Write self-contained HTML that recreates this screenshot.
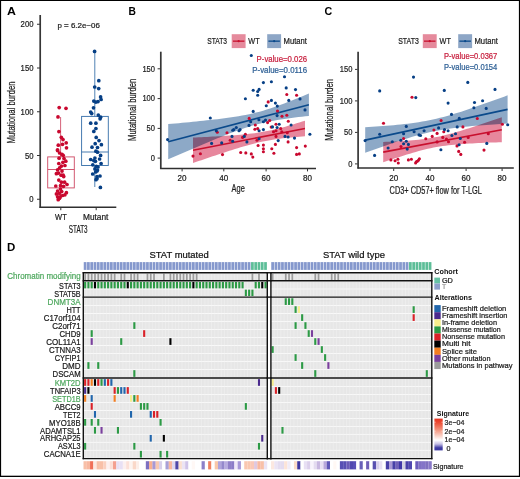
<!DOCTYPE html>
<html><head><meta charset="utf-8"><title>Figure</title>
<style>html,body{margin:0;padding:0;background:#fff;}body{width:520px;height:479px;overflow:hidden;}svg{display:block;}text{font-family:"Liberation Sans",sans-serif;}</style>
</head><body>
<svg width="520" height="479" viewBox="0 0 520 479" font-family="Liberation Sans, sans-serif">
<rect width="520" height="479" fill="#fff"/>
<text x="7" y="14.7" font-size="11" fill="#000" text-anchor="start" font-weight="bold" textLength="8.9" lengthAdjust="spacingAndGlyphs">A</text>
<line x1="40.2" y1="15" x2="40.2" y2="207.9" stroke="#363636" stroke-width="1.7"/>
<line x1="39.5" y1="207.3" x2="116.3" y2="207.3" stroke="#303030" stroke-width="1.5"/>
<line x1="37" y1="24.25" x2="40" y2="24.25" stroke="#333" stroke-width="1"/>
<text x="33.5" y="27.25" font-size="8.8" fill="#1c1c1c" text-anchor="end" textLength="12.9" lengthAdjust="spacingAndGlyphs" stroke="#1c1c1c" stroke-width="0.22">200</text>
<line x1="37" y1="68.0" x2="40" y2="68.0" stroke="#333" stroke-width="1"/>
<text x="33.5" y="71.0" font-size="8.8" fill="#1c1c1c" text-anchor="end" textLength="12.9" lengthAdjust="spacingAndGlyphs" stroke="#1c1c1c" stroke-width="0.22">150</text>
<line x1="37" y1="111.75" x2="40" y2="111.75" stroke="#333" stroke-width="1"/>
<text x="33.5" y="114.75" font-size="8.8" fill="#1c1c1c" text-anchor="end" textLength="12.9" lengthAdjust="spacingAndGlyphs" stroke="#1c1c1c" stroke-width="0.22">100</text>
<line x1="37" y1="155.5" x2="40" y2="155.5" stroke="#333" stroke-width="1"/>
<text x="33.5" y="158.5" font-size="8.8" fill="#1c1c1c" text-anchor="end" textLength="8.6" lengthAdjust="spacingAndGlyphs" stroke="#1c1c1c" stroke-width="0.22">50</text>
<line x1="37" y1="199.25" x2="40" y2="199.25" stroke="#333" stroke-width="1"/>
<text x="33.5" y="202.25" font-size="8.8" fill="#1c1c1c" text-anchor="end" textLength="4.3" lengthAdjust="spacingAndGlyphs" stroke="#1c1c1c" stroke-width="0.22">0</text>
<line x1="60.8" y1="207.5" x2="60.8" y2="210.2" stroke="#333" stroke-width="1"/>
<line x1="96.2" y1="207.5" x2="96.2" y2="210.2" stroke="#333" stroke-width="1"/>
<text x="55.1" y="220.2" font-size="8.4" fill="#1c1c1c" text-anchor="start" textLength="11.6" lengthAdjust="spacingAndGlyphs" stroke="#1c1c1c" stroke-width="0.22">WT</text>
<text x="83" y="220.2" font-size="8.4" fill="#1c1c1c" text-anchor="start" textLength="25.4" lengthAdjust="spacingAndGlyphs" stroke="#1c1c1c" stroke-width="0.22">Mutant</text>
<text x="68.8" y="233.2" font-size="10.3" fill="#1c1c1c" text-anchor="start" textLength="18.7" lengthAdjust="spacingAndGlyphs" stroke="#1c1c1c" stroke-width="0.22">STAT3</text>
<text x="0" y="0" font-size="10.5" fill="#1c1c1c" text-anchor="start" textLength="62" lengthAdjust="spacingAndGlyphs" stroke="#1c1c1c" stroke-width="0.22" transform="translate(14.5,143.4) rotate(-90)">Mutational burden</text>
<text x="57.5" y="27.9" font-size="7.6" fill="#1c1c1c" text-anchor="start" textLength="42.3" lengthAdjust="spacingAndGlyphs" stroke="#1c1c1c" stroke-width="0.22">p = 6.2e&#8722;06</text>
<line x1="60.6" y1="117" x2="60.6" y2="157" stroke="#D0506A" stroke-width="0.9"/>
<line x1="60.6" y1="188" x2="60.6" y2="199.2" stroke="#D0506A" stroke-width="0.9"/>
<rect x="47.7" y="156.9" width="26.6" height="31" fill="none" stroke="#D0506A" stroke-width="0.95"/>
<line x1="47.7" y1="169.5" x2="74.3" y2="169.5" stroke="#D0506A" stroke-width="0.95"/>
<line x1="94.8" y1="51.4" x2="94.8" y2="116.4" stroke="#3D74AC" stroke-width="0.9"/>
<line x1="94.8" y1="165.5" x2="94.8" y2="187" stroke="#3D74AC" stroke-width="0.9"/>
<rect x="81.6" y="116.4" width="26.7" height="49.1" fill="none" stroke="#3D74AC" stroke-width="0.95"/>
<line x1="81.6" y1="152" x2="108.3" y2="152" stroke="#3D74AC" stroke-width="0.95"/>
<circle cx="59.2" cy="107.6" r="1.85" fill="#C9082F"/>
<circle cx="66" cy="108.3" r="1.85" fill="#C9082F"/>
<circle cx="58" cy="116.9" r="1.85" fill="#C9082F"/>
<circle cx="58.9" cy="131.6" r="1.85" fill="#C9082F"/>
<circle cx="61.3" cy="137.3" r="1.85" fill="#C9082F"/>
<circle cx="63" cy="139.6" r="1.85" fill="#C9082F"/>
<circle cx="66.2" cy="142.8" r="1.85" fill="#C9082F"/>
<circle cx="62.5" cy="144.3" r="1.85" fill="#C9082F"/>
<circle cx="58.3" cy="145.2" r="1.85" fill="#C9082F"/>
<circle cx="66.5" cy="147.8" r="1.85" fill="#C9082F"/>
<circle cx="57.5" cy="149.8" r="1.85" fill="#C9082F"/>
<circle cx="57.6" cy="150.6" r="1.85" fill="#C9082F"/>
<circle cx="59.6" cy="153" r="1.85" fill="#C9082F"/>
<circle cx="62" cy="154.4" r="1.85" fill="#C9082F"/>
<circle cx="63.2" cy="155.3" r="1.85" fill="#C9082F"/>
<circle cx="59.1" cy="158.2" r="1.85" fill="#C9082F"/>
<circle cx="64" cy="158.5" r="1.85" fill="#C9082F"/>
<circle cx="65.8" cy="161.2" r="1.85" fill="#C9082F"/>
<circle cx="58.8" cy="163.5" r="1.85" fill="#C9082F"/>
<circle cx="62.9" cy="162.3" r="1.85" fill="#C9082F"/>
<circle cx="64.9" cy="165.5" r="1.85" fill="#C9082F"/>
<circle cx="61.4" cy="166.1" r="1.85" fill="#C9082F"/>
<circle cx="59.6" cy="167.9" r="1.85" fill="#C9082F"/>
<circle cx="57.6" cy="169.9" r="1.85" fill="#C9082F"/>
<circle cx="62" cy="171.1" r="1.85" fill="#C9082F"/>
<circle cx="56.4" cy="173.7" r="1.85" fill="#C9082F"/>
<circle cx="58.5" cy="173.1" r="1.85" fill="#C9082F"/>
<circle cx="61.1" cy="175.2" r="1.85" fill="#C9082F"/>
<circle cx="63.2" cy="175.2" r="1.85" fill="#C9082F"/>
<circle cx="63.7" cy="176.6" r="1.85" fill="#C9082F"/>
<circle cx="58.8" cy="180.1" r="1.85" fill="#C9082F"/>
<circle cx="61.4" cy="182.2" r="1.85" fill="#C9082F"/>
<circle cx="64.6" cy="182.2" r="1.85" fill="#C9082F"/>
<circle cx="67" cy="184.5" r="1.85" fill="#C9082F"/>
<circle cx="55.8" cy="186" r="1.85" fill="#C9082F"/>
<circle cx="60.5" cy="185.7" r="1.85" fill="#C9082F"/>
<circle cx="63.5" cy="186.3" r="1.85" fill="#C9082F"/>
<circle cx="57.6" cy="191" r="1.85" fill="#C9082F"/>
<circle cx="61.7" cy="191.5" r="1.85" fill="#C9082F"/>
<circle cx="66.4" cy="192.7" r="1.85" fill="#C9082F"/>
<circle cx="56.4" cy="193.9" r="1.85" fill="#C9082F"/>
<circle cx="59.4" cy="193.3" r="1.85" fill="#C9082F"/>
<circle cx="64.9" cy="194.8" r="1.85" fill="#C9082F"/>
<circle cx="57.6" cy="196.8" r="1.85" fill="#C9082F"/>
<circle cx="60.2" cy="196.8" r="1.85" fill="#C9082F"/>
<circle cx="58.2" cy="199.7" r="1.85" fill="#C9082F"/>
<circle cx="60.5" cy="189" r="1.85" fill="#C9082F"/>
<circle cx="62.5" cy="195.5" r="1.85" fill="#C9082F"/>
<circle cx="59.5" cy="198.3" r="1.85" fill="#C9082F"/>
<circle cx="94.6" cy="51.4" r="1.85" fill="#063F85"/>
<circle cx="98.8" cy="80.7" r="1.85" fill="#063F85"/>
<circle cx="94.7" cy="87" r="1.85" fill="#063F85"/>
<circle cx="98.7" cy="88.6" r="1.85" fill="#063F85"/>
<circle cx="100.6" cy="96.9" r="1.85" fill="#063F85"/>
<circle cx="101.1" cy="99.5" r="1.85" fill="#063F85"/>
<circle cx="93.8" cy="101.1" r="1.85" fill="#063F85"/>
<circle cx="98" cy="101.6" r="1.85" fill="#063F85"/>
<circle cx="95.9" cy="102.1" r="1.85" fill="#063F85"/>
<circle cx="93.5" cy="107.8" r="1.85" fill="#063F85"/>
<circle cx="90.7" cy="112" r="1.85" fill="#063F85"/>
<circle cx="91.7" cy="113.6" r="1.85" fill="#063F85"/>
<circle cx="98.3" cy="115.1" r="1.85" fill="#063F85"/>
<circle cx="100.6" cy="117.2" r="1.85" fill="#063F85"/>
<circle cx="100.1" cy="118.8" r="1.85" fill="#063F85"/>
<circle cx="90.7" cy="123.2" r="1.85" fill="#063F85"/>
<circle cx="95.9" cy="123.2" r="1.85" fill="#063F85"/>
<circle cx="95.9" cy="128.5" r="1.85" fill="#063F85"/>
<circle cx="93.8" cy="131.4" r="1.85" fill="#063F85"/>
<circle cx="96.2" cy="137.4" r="1.85" fill="#063F85"/>
<circle cx="99" cy="140.6" r="1.85" fill="#063F85"/>
<circle cx="95.2" cy="143.7" r="1.85" fill="#063F85"/>
<circle cx="101.4" cy="144.7" r="1.85" fill="#063F85"/>
<circle cx="92" cy="147.2" r="1.85" fill="#063F85"/>
<circle cx="97.5" cy="147.5" r="1.85" fill="#063F85"/>
<circle cx="95.9" cy="151.2" r="1.85" fill="#063F85"/>
<circle cx="97.5" cy="152.2" r="1.85" fill="#063F85"/>
<circle cx="100.6" cy="155.4" r="1.85" fill="#063F85"/>
<circle cx="94.9" cy="158" r="1.85" fill="#063F85"/>
<circle cx="90.7" cy="159.5" r="1.85" fill="#063F85"/>
<circle cx="93.8" cy="160.6" r="1.85" fill="#063F85"/>
<circle cx="99.6" cy="159" r="1.85" fill="#063F85"/>
<circle cx="101.1" cy="163.5" r="1.85" fill="#063F85"/>
<circle cx="92.8" cy="164.8" r="1.85" fill="#063F85"/>
<circle cx="96.4" cy="166.3" r="1.85" fill="#063F85"/>
<circle cx="94.9" cy="168.9" r="1.85" fill="#063F85"/>
<circle cx="97.5" cy="170" r="1.85" fill="#063F85"/>
<circle cx="95.4" cy="161.3" r="1.85" fill="#063F85"/>
<circle cx="98" cy="167" r="1.85" fill="#063F85"/>
<circle cx="97" cy="171" r="1.85" fill="#063F85"/>
<circle cx="95.7" cy="172" r="1.85" fill="#063F85"/>
<circle cx="92.7" cy="174" r="1.85" fill="#063F85"/>
<circle cx="100" cy="176" r="1.85" fill="#063F85"/>
<circle cx="97" cy="176.7" r="1.85" fill="#063F85"/>
<circle cx="97" cy="178.7" r="1.85" fill="#063F85"/>
<circle cx="96" cy="179.7" r="1.85" fill="#063F85"/>
<circle cx="100.4" cy="187.4" r="1.85" fill="#063F85"/>
<text x="128.6" y="14.8" font-size="11.5" fill="#000" text-anchor="start" font-weight="bold" textLength="7.4" lengthAdjust="spacingAndGlyphs">B</text>
<line x1="160.8" y1="51.7" x2="160.8" y2="169" stroke="#363636" stroke-width="1.7"/>
<line x1="160.1" y1="168.4" x2="316" y2="168.4" stroke="#303030" stroke-width="1.5"/>
<line x1="157.6" y1="68.8" x2="160.3" y2="68.8" stroke="#333" stroke-width="1"/>
<text x="155.0" y="71.5" font-size="8.8" fill="#1c1c1c" text-anchor="end" textLength="12.6" lengthAdjust="spacingAndGlyphs" stroke="#1c1c1c" stroke-width="0.22">150</text>
<line x1="157.6" y1="98.6" x2="160.3" y2="98.6" stroke="#333" stroke-width="1"/>
<text x="155.0" y="101.3" font-size="8.8" fill="#1c1c1c" text-anchor="end" textLength="12.6" lengthAdjust="spacingAndGlyphs" stroke="#1c1c1c" stroke-width="0.22">100</text>
<line x1="157.6" y1="128.4" x2="160.3" y2="128.4" stroke="#333" stroke-width="1"/>
<text x="155.0" y="131.1" font-size="8.8" fill="#1c1c1c" text-anchor="end" textLength="8.4" lengthAdjust="spacingAndGlyphs" stroke="#1c1c1c" stroke-width="0.22">50</text>
<line x1="157.6" y1="158.1" x2="160.3" y2="158.1" stroke="#333" stroke-width="1"/>
<text x="155.0" y="160.8" font-size="8.8" fill="#1c1c1c" text-anchor="end" textLength="4.2" lengthAdjust="spacingAndGlyphs" stroke="#1c1c1c" stroke-width="0.22">0</text>
<line x1="182.1" y1="168.8" x2="182.1" y2="171.4" stroke="#333" stroke-width="1"/>
<text x="182.1" y="180.8" font-size="8.8" fill="#1c1c1c" text-anchor="middle" textLength="9.0" lengthAdjust="spacingAndGlyphs" stroke="#1c1c1c" stroke-width="0.22">20</text>
<line x1="223.8" y1="168.8" x2="223.8" y2="171.4" stroke="#333" stroke-width="1"/>
<text x="223.8" y="180.8" font-size="8.8" fill="#1c1c1c" text-anchor="middle" textLength="9.0" lengthAdjust="spacingAndGlyphs" stroke="#1c1c1c" stroke-width="0.22">40</text>
<line x1="266.1" y1="168.8" x2="266.1" y2="171.4" stroke="#333" stroke-width="1"/>
<text x="266.1" y="180.8" font-size="8.8" fill="#1c1c1c" text-anchor="middle" textLength="9.0" lengthAdjust="spacingAndGlyphs" stroke="#1c1c1c" stroke-width="0.22">60</text>
<line x1="307.5" y1="168.8" x2="307.5" y2="171.4" stroke="#333" stroke-width="1"/>
<text x="307.5" y="180.8" font-size="8.8" fill="#1c1c1c" text-anchor="middle" textLength="9.0" lengthAdjust="spacingAndGlyphs" stroke="#1c1c1c" stroke-width="0.22">80</text>
<text x="231.6" y="191.7" font-size="10.4" fill="#1c1c1c" text-anchor="start" textLength="13.2" lengthAdjust="spacingAndGlyphs" stroke="#1c1c1c" stroke-width="0.22">Age</text>
<text x="0" y="0" font-size="10.5" fill="#1c1c1c" text-anchor="start" textLength="62.4" lengthAdjust="spacingAndGlyphs" stroke="#1c1c1c" stroke-width="0.22" transform="translate(136.2,141.0) rotate(-90)">Mutational burden</text>
<text x="207.3" y="44.3" font-size="8.5" fill="#1c1c1c" text-anchor="start" textLength="19.8" lengthAdjust="spacingAndGlyphs" stroke="#1c1c1c" stroke-width="0.22">STAT3</text>
<rect x="231.7" y="34.2" width="13.9" height="13.9" fill="#E58A9C"/>
<line x1="232.89999999999998" y1="41.15" x2="244.39999999999998" y2="41.15" stroke="#C8102E" stroke-width="1.3"/>
<circle cx="238.64999999999998" cy="41.15" r="1.1" fill="#C8102E"/>
<rect x="267.2" y="34.2" width="13.9" height="13.9" fill="#8DA6C6"/>
<line x1="268.4" y1="41.15" x2="279.9" y2="41.15" stroke="#0B4A8B" stroke-width="1.3"/>
<circle cx="274.15" cy="41.15" r="1.1" fill="#0B4A8B"/>
<text x="248.3" y="44.3" font-size="8.5" fill="#1c1c1c" text-anchor="start" textLength="11.3" lengthAdjust="spacingAndGlyphs" stroke="#1c1c1c" stroke-width="0.22">WT</text>
<text x="283.6" y="44.3" font-size="8.5" fill="#1c1c1c" text-anchor="start" textLength="23.4" lengthAdjust="spacingAndGlyphs" stroke="#1c1c1c" stroke-width="0.22">Mutant</text>
<text x="256.6" y="62.4" font-size="8.2" fill="#C8203F" text-anchor="start" textLength="50.5" lengthAdjust="spacingAndGlyphs" stroke="#C8203F" stroke-width="0.22">P-value=0.026</text>
<text x="252.3" y="72.8" font-size="8.2" fill="#2D5F95" text-anchor="start" textLength="54.8" lengthAdjust="spacingAndGlyphs" stroke="#2D5F95" stroke-width="0.22">P-value=0.0116</text>
<path d="M168.20,124.10 L171.72,123.78 L175.23,123.47 L178.75,123.14 L182.27,122.82 L185.79,122.49 L189.30,122.15 L192.82,121.81 L196.34,121.46 L199.86,121.11 L203.38,120.74 L206.89,120.37 L210.41,119.99 L213.93,119.59 L217.44,119.18 L220.96,118.75 L224.48,118.30 L228.00,117.83 L231.51,117.33 L235.03,116.80 L238.55,116.22 L242.07,115.61 L245.58,114.94 L249.10,114.21 L252.62,113.42 L256.14,112.56 L259.65,111.64 L263.17,110.64 L266.69,109.58 L270.21,108.45 L273.73,107.27 L277.24,106.03 L280.76,104.75 L284.28,103.43 L287.79,102.08 L291.31,100.70 L294.83,99.30 L298.35,97.88 L301.87,96.44 L305.38,94.98 L308.90,93.51 L308.90,115.88 L305.38,116.26 L301.87,116.66 L298.35,117.07 L294.83,117.49 L291.31,117.94 L287.79,118.41 L284.28,118.91 L280.76,119.44 L277.24,120.01 L273.73,120.63 L270.21,121.29 L266.69,122.02 L263.17,122.80 L259.65,123.66 L256.14,124.58 L252.62,125.57 L249.10,126.63 L245.58,127.76 L242.07,128.94 L238.55,130.17 L235.03,131.45 L231.51,132.77 L228.00,134.11 L224.48,135.49 L220.96,136.89 L217.44,138.32 L213.93,139.76 L210.41,141.21 L206.89,142.68 L203.38,144.15 L199.86,145.64 L196.34,147.14 L192.82,148.64 L189.30,150.15 L185.79,151.66 L182.27,153.18 L178.75,154.71 L175.23,156.23 L171.72,157.77 L168.20,159.30Z" fill="#1B5390" fill-opacity="0.5"/>
<path d="M193.00,137.59 L195.80,137.46 L198.60,137.33 L201.40,137.19 L204.20,137.05 L207.00,136.91 L209.80,136.77 L212.60,136.62 L215.40,136.46 L218.20,136.30 L221.00,136.14 L223.80,135.96 L226.60,135.78 L229.40,135.59 L232.20,135.39 L235.00,135.18 L237.80,134.95 L240.60,134.71 L243.40,134.45 L246.20,134.17 L249.00,133.86 L251.80,133.53 L254.60,133.16 L257.40,132.76 L260.20,132.33 L263.00,131.85 L265.80,131.34 L268.60,130.78 L271.40,130.18 L274.20,129.54 L277.00,128.86 L279.80,128.15 L282.60,127.40 L285.40,126.63 L288.20,125.83 L291.00,125.01 L293.80,124.16 L296.60,123.31 L299.40,122.43 L302.20,121.55 L305.00,120.65 L305.00,136.36 L302.20,136.55 L299.40,136.75 L296.60,136.97 L293.80,137.20 L291.00,137.45 L288.20,137.72 L285.40,138.01 L282.60,138.33 L279.80,138.67 L277.00,139.05 L274.20,139.46 L271.40,139.91 L268.60,140.40 L265.80,140.93 L263.00,141.50 L260.20,142.12 L257.40,142.77 L254.60,143.46 L251.80,144.19 L249.00,144.95 L246.20,145.73 L243.40,146.54 L240.60,147.36 L237.80,148.21 L235.00,149.07 L232.20,149.95 L229.40,150.84 L226.60,151.74 L223.80,152.65 L221.00,153.57 L218.20,154.49 L215.40,155.42 L212.60,156.35 L209.80,157.30 L207.00,158.24 L204.20,159.19 L201.40,160.14 L198.60,161.10 L195.80,162.05 L193.00,163.01Z" fill="#D0103C" fill-opacity="0.5" style="mix-blend-mode:multiply"/>
<line x1="168.2" y1="141.7" x2="308.9" y2="104.70" stroke="#0B4A8B" stroke-width="1.6"/>
<line x1="193" y1="150.3" x2="305" y2="128.50" stroke="#C8102E" stroke-width="1.6"/>
<circle cx="286.8" cy="94.5" r="1.55" fill="#C9082F"/>
<circle cx="296.6" cy="95.3" r="1.55" fill="#C9082F"/>
<circle cx="268.2" cy="101.9" r="1.55" fill="#C9082F"/>
<circle cx="277.5" cy="111" r="1.55" fill="#C9082F"/>
<circle cx="282" cy="116.3" r="1.55" fill="#C9082F"/>
<circle cx="286.8" cy="115.2" r="1.55" fill="#C9082F"/>
<circle cx="249.2" cy="118.4" r="1.55" fill="#C9082F"/>
<circle cx="269.7" cy="120.5" r="1.55" fill="#C9082F"/>
<circle cx="267.6" cy="122.6" r="1.55" fill="#C9082F"/>
<circle cx="288.3" cy="121.2" r="1.55" fill="#C9082F"/>
<circle cx="255.3" cy="125" r="1.55" fill="#C9082F"/>
<circle cx="271.2" cy="127.1" r="1.55" fill="#C9082F"/>
<circle cx="276" cy="124.3" r="1.55" fill="#C9082F"/>
<circle cx="280.7" cy="128.6" r="1.55" fill="#C9082F"/>
<circle cx="254.9" cy="129.2" r="1.55" fill="#C9082F"/>
<circle cx="257.7" cy="128.6" r="1.55" fill="#C9082F"/>
<circle cx="227" cy="132.8" r="1.55" fill="#C9082F"/>
<circle cx="273.5" cy="131.7" r="1.55" fill="#C9082F"/>
<circle cx="276" cy="130.7" r="1.55" fill="#C9082F"/>
<circle cx="281.8" cy="131.7" r="1.55" fill="#C9082F"/>
<circle cx="287.3" cy="132.8" r="1.55" fill="#C9082F"/>
<circle cx="276" cy="136.4" r="1.55" fill="#C9082F"/>
<circle cx="245.4" cy="134.3" r="1.55" fill="#C9082F"/>
<circle cx="242.6" cy="137.4" r="1.55" fill="#C9082F"/>
<circle cx="230.2" cy="140.2" r="1.55" fill="#C9082F"/>
<circle cx="257" cy="140.2" r="1.55" fill="#C9082F"/>
<circle cx="288.1" cy="141.9" r="1.55" fill="#C9082F"/>
<circle cx="258.1" cy="145.5" r="1.55" fill="#C9082F"/>
<circle cx="263.4" cy="145.1" r="1.55" fill="#C9082F"/>
<circle cx="275.4" cy="144.4" r="1.55" fill="#C9082F"/>
<circle cx="263.4" cy="148.7" r="1.55" fill="#C9082F"/>
<circle cx="271.8" cy="148.7" r="1.55" fill="#C9082F"/>
<circle cx="263.4" cy="151.8" r="1.55" fill="#C9082F"/>
<circle cx="296.6" cy="147.6" r="1.55" fill="#C9082F"/>
<circle cx="305.3" cy="146.1" r="1.55" fill="#C9082F"/>
<circle cx="240.7" cy="152.5" r="1.55" fill="#C9082F"/>
<circle cx="245.8" cy="152.9" r="1.55" fill="#C9082F"/>
<circle cx="251.3" cy="153.9" r="1.55" fill="#C9082F"/>
<circle cx="252.8" cy="157.1" r="1.55" fill="#C9082F"/>
<circle cx="273.9" cy="153.3" r="1.55" fill="#C9082F"/>
<circle cx="296.6" cy="154.4" r="1.55" fill="#C9082F"/>
<circle cx="299.3" cy="153.9" r="1.55" fill="#C9082F"/>
<circle cx="222.5" cy="154.6" r="1.55" fill="#C9082F"/>
<circle cx="217.3" cy="132.2" r="1.55" fill="#C9082F"/>
<circle cx="193" cy="156.1" r="1.55" fill="#C9082F"/>
<circle cx="200.4" cy="153.8" r="1.55" fill="#C9082F"/>
<circle cx="251.3" cy="55.5" r="1.55" fill="#063F85"/>
<circle cx="284.5" cy="76.7" r="1.55" fill="#063F85"/>
<circle cx="263.4" cy="82.6" r="1.55" fill="#063F85"/>
<circle cx="271.4" cy="81.8" r="1.55" fill="#063F85"/>
<circle cx="253.2" cy="90.2" r="1.55" fill="#063F85"/>
<circle cx="259.1" cy="89.4" r="1.55" fill="#063F85"/>
<circle cx="257.7" cy="91.5" r="1.55" fill="#063F85"/>
<circle cx="286.2" cy="87.9" r="1.55" fill="#063F85"/>
<circle cx="295.5" cy="89.6" r="1.55" fill="#063F85"/>
<circle cx="257.7" cy="95.3" r="1.55" fill="#063F85"/>
<circle cx="245.4" cy="98.7" r="1.55" fill="#063F85"/>
<circle cx="271.4" cy="100.4" r="1.55" fill="#063F85"/>
<circle cx="275.4" cy="103.1" r="1.55" fill="#063F85"/>
<circle cx="288.8" cy="100.4" r="1.55" fill="#063F85"/>
<circle cx="300" cy="98.9" r="1.55" fill="#063F85"/>
<circle cx="266.3" cy="105.7" r="1.55" fill="#063F85"/>
<circle cx="277.3" cy="106.1" r="1.55" fill="#063F85"/>
<circle cx="253.2" cy="111.4" r="1.55" fill="#063F85"/>
<circle cx="305" cy="109.9" r="1.55" fill="#063F85"/>
<circle cx="277.1" cy="115.6" r="1.55" fill="#063F85"/>
<circle cx="258.9" cy="119.7" r="1.55" fill="#063F85"/>
<circle cx="250.7" cy="121.8" r="1.55" fill="#063F85"/>
<circle cx="263.4" cy="121.8" r="1.55" fill="#063F85"/>
<circle cx="265.5" cy="120.1" r="1.55" fill="#063F85"/>
<circle cx="249" cy="125.4" r="1.55" fill="#063F85"/>
<circle cx="291.1" cy="125" r="1.55" fill="#063F85"/>
<circle cx="272.5" cy="126.9" r="1.55" fill="#063F85"/>
<circle cx="279.2" cy="124.3" r="1.55" fill="#063F85"/>
<circle cx="277.1" cy="127.5" r="1.55" fill="#063F85"/>
<circle cx="259.1" cy="130.7" r="1.55" fill="#063F85"/>
<circle cx="263.4" cy="129.6" r="1.55" fill="#063F85"/>
<circle cx="236.3" cy="127.5" r="1.55" fill="#063F85"/>
<circle cx="233.8" cy="129.6" r="1.55" fill="#063F85"/>
<circle cx="239" cy="130.7" r="1.55" fill="#063F85"/>
<circle cx="240.1" cy="129.6" r="1.55" fill="#063F85"/>
<circle cx="232.7" cy="130.3" r="1.55" fill="#063F85"/>
<circle cx="244.3" cy="136.4" r="1.55" fill="#063F85"/>
<circle cx="232" cy="136.4" r="1.55" fill="#063F85"/>
<circle cx="285" cy="136.4" r="1.55" fill="#063F85"/>
<circle cx="288.1" cy="137" r="1.55" fill="#063F85"/>
<circle cx="294.5" cy="138.1" r="1.55" fill="#063F85"/>
<circle cx="309.9" cy="134.3" r="1.55" fill="#063F85"/>
<circle cx="232.7" cy="141.3" r="1.55" fill="#063F85"/>
<circle cx="259.1" cy="138.7" r="1.55" fill="#063F85"/>
<circle cx="246.9" cy="141.9" r="1.55" fill="#063F85"/>
<circle cx="278.2" cy="140.6" r="1.55" fill="#063F85"/>
<circle cx="221.7" cy="142.9" r="1.55" fill="#063F85"/>
<circle cx="167.6" cy="139.6" r="1.55" fill="#063F85"/>
<circle cx="210.3" cy="118" r="1.55" fill="#063F85"/>
<circle cx="216.3" cy="130.7" r="1.55" fill="#063F85"/>
<circle cx="211.6" cy="143.4" r="1.55" fill="#063F85"/>
<text x="324.4" y="15.0" font-size="11.5" fill="#000" text-anchor="start" font-weight="bold" textLength="7.7" lengthAdjust="spacingAndGlyphs">C</text>
<line x1="358.1" y1="51.7" x2="358.1" y2="168.6" stroke="#363636" stroke-width="1.7"/>
<line x1="357.4" y1="168.0" x2="513.8" y2="168.0" stroke="#303030" stroke-width="1.5"/>
<line x1="355" y1="69.4" x2="357.6" y2="69.4" stroke="#333" stroke-width="1"/>
<text x="352.4" y="72.1" font-size="8.8" fill="#1c1c1c" text-anchor="end" textLength="12.6" lengthAdjust="spacingAndGlyphs" stroke="#1c1c1c" stroke-width="0.22">150</text>
<line x1="355" y1="100.9" x2="357.6" y2="100.9" stroke="#333" stroke-width="1"/>
<text x="352.4" y="103.6" font-size="8.8" fill="#1c1c1c" text-anchor="end" textLength="12.6" lengthAdjust="spacingAndGlyphs" stroke="#1c1c1c" stroke-width="0.22">100</text>
<line x1="355" y1="132.4" x2="357.6" y2="132.4" stroke="#333" stroke-width="1"/>
<text x="352.4" y="135.1" font-size="8.8" fill="#1c1c1c" text-anchor="end" textLength="8.4" lengthAdjust="spacingAndGlyphs" stroke="#1c1c1c" stroke-width="0.22">50</text>
<line x1="355" y1="163.9" x2="357.6" y2="163.9" stroke="#333" stroke-width="1"/>
<text x="352.4" y="166.6" font-size="8.8" fill="#1c1c1c" text-anchor="end" textLength="4.2" lengthAdjust="spacingAndGlyphs" stroke="#1c1c1c" stroke-width="0.22">0</text>
<line x1="393.7" y1="168.4" x2="393.7" y2="171" stroke="#333" stroke-width="1"/>
<text x="393.7" y="180.8" font-size="8.8" fill="#1c1c1c" text-anchor="middle" textLength="9.0" lengthAdjust="spacingAndGlyphs" stroke="#1c1c1c" stroke-width="0.22">20</text>
<line x1="430.0" y1="168.4" x2="430.0" y2="171" stroke="#333" stroke-width="1"/>
<text x="430.0" y="180.8" font-size="8.8" fill="#1c1c1c" text-anchor="middle" textLength="9.0" lengthAdjust="spacingAndGlyphs" stroke="#1c1c1c" stroke-width="0.22">40</text>
<line x1="466.1" y1="168.4" x2="466.1" y2="171" stroke="#333" stroke-width="1"/>
<text x="466.1" y="180.8" font-size="8.8" fill="#1c1c1c" text-anchor="middle" textLength="9.0" lengthAdjust="spacingAndGlyphs" stroke="#1c1c1c" stroke-width="0.22">60</text>
<line x1="502.1" y1="168.4" x2="502.1" y2="171" stroke="#333" stroke-width="1"/>
<text x="502.1" y="180.8" font-size="8.8" fill="#1c1c1c" text-anchor="middle" textLength="9.0" lengthAdjust="spacingAndGlyphs" stroke="#1c1c1c" stroke-width="0.22">80</text>
<text x="389.6" y="194.0" font-size="10.4" fill="#1c1c1c" text-anchor="start" textLength="92.3" lengthAdjust="spacingAndGlyphs" stroke="#1c1c1c" stroke-width="0.22">CD3+ CD57+ flow for T-LGL</text>
<text x="0" y="0" font-size="10.5" fill="#1c1c1c" text-anchor="start" textLength="61.8" lengthAdjust="spacingAndGlyphs" stroke="#1c1c1c" stroke-width="0.22" transform="translate(332.9,140.7) rotate(-90)">Mutational burden</text>
<text x="398.2" y="44.3" font-size="8.5" fill="#1c1c1c" text-anchor="start" textLength="20.6" lengthAdjust="spacingAndGlyphs" stroke="#1c1c1c" stroke-width="0.22">STAT3</text>
<rect x="422.8" y="34.2" width="13.9" height="13.9" fill="#E58A9C"/>
<line x1="424.0" y1="41.15" x2="435.5" y2="41.15" stroke="#C8102E" stroke-width="1.3"/>
<circle cx="429.75" cy="41.15" r="1.1" fill="#C8102E"/>
<rect x="458.2" y="34.2" width="13.9" height="13.9" fill="#8DA6C6"/>
<line x1="459.4" y1="41.15" x2="470.9" y2="41.15" stroke="#0B4A8B" stroke-width="1.3"/>
<circle cx="465.15" cy="41.15" r="1.1" fill="#0B4A8B"/>
<text x="439.6" y="44.3" font-size="8.5" fill="#1c1c1c" text-anchor="start" textLength="11.3" lengthAdjust="spacingAndGlyphs" stroke="#1c1c1c" stroke-width="0.22">WT</text>
<text x="474.5" y="44.3" font-size="8.5" fill="#1c1c1c" text-anchor="start" textLength="23.4" lengthAdjust="spacingAndGlyphs" stroke="#1c1c1c" stroke-width="0.22">Mutant</text>
<text x="444" y="59.3" font-size="8.2" fill="#C8203F" text-anchor="start" textLength="53.3" lengthAdjust="spacingAndGlyphs" stroke="#C8203F" stroke-width="0.22">P-value=0.0367</text>
<text x="444" y="69.9" font-size="8.2" fill="#2D5F95" text-anchor="start" textLength="53.3" lengthAdjust="spacingAndGlyphs" stroke="#2D5F95" stroke-width="0.22">P-value=0.0154</text>
<path d="M365.20,127.36 L368.76,127.12 L372.32,126.87 L375.88,126.61 L379.44,126.34 L383.00,126.07 L386.56,125.77 L390.12,125.47 L393.68,125.15 L397.24,124.81 L400.80,124.45 L404.36,124.06 L407.92,123.64 L411.48,123.19 L415.04,122.71 L418.60,122.17 L422.16,121.59 L425.72,120.96 L429.28,120.27 L432.84,119.52 L436.40,118.71 L439.96,117.84 L443.52,116.92 L447.08,115.94 L450.64,114.92 L454.20,113.86 L457.76,112.76 L461.32,111.63 L464.88,110.47 L468.44,109.28 L472.00,108.08 L475.56,106.86 L479.12,105.62 L482.68,104.37 L486.24,103.11 L489.80,101.84 L493.36,100.56 L496.92,99.27 L500.48,97.98 L504.04,96.68 L507.60,95.37 L507.60,123.43 L504.04,123.65 L500.48,123.89 L496.92,124.13 L493.36,124.38 L489.80,124.63 L486.24,124.90 L482.68,125.17 L479.12,125.46 L475.56,125.75 L472.00,126.07 L468.44,126.40 L464.88,126.75 L461.32,127.13 L457.76,127.53 L454.20,127.97 L450.64,128.44 L447.08,128.95 L443.52,129.51 L439.96,130.13 L436.40,130.79 L432.84,131.52 L429.28,132.30 L425.72,133.15 L422.16,134.05 L418.60,135.00 L415.04,136.00 L411.48,137.05 L407.92,138.13 L404.36,139.25 L400.80,140.40 L397.24,141.57 L393.68,142.77 L390.12,143.98 L386.56,145.22 L383.00,146.46 L379.44,147.72 L375.88,148.98 L372.32,150.26 L368.76,151.54 L365.20,152.84Z" fill="#1B5390" fill-opacity="0.5"/>
<path d="M383.20,141.90 L386.16,141.78 L389.13,141.65 L392.09,141.52 L395.06,141.38 L398.02,141.22 L400.99,141.05 L403.95,140.87 L406.92,140.67 L409.88,140.46 L412.85,140.22 L415.81,139.95 L418.78,139.65 L421.75,139.32 L424.71,138.95 L427.68,138.54 L430.64,138.08 L433.61,137.57 L436.57,137.01 L439.54,136.39 L442.50,135.73 L445.46,135.02 L448.43,134.27 L451.39,133.47 L454.36,132.65 L457.32,131.79 L460.29,130.91 L463.25,130.01 L466.22,129.08 L469.19,128.14 L472.15,127.19 L475.12,126.22 L478.08,125.24 L481.05,124.26 L484.01,123.26 L486.98,122.26 L489.94,121.26 L492.90,120.24 L495.87,119.23 L498.84,118.20 L501.80,117.18 L501.80,142.19 L498.84,142.29 L495.87,142.38 L492.90,142.49 L489.94,142.60 L486.98,142.71 L484.01,142.83 L481.05,142.96 L478.08,143.09 L475.12,143.24 L472.15,143.39 L469.19,143.56 L466.22,143.74 L463.25,143.93 L460.29,144.15 L457.32,144.39 L454.36,144.65 L451.39,144.95 L448.43,145.28 L445.46,145.64 L442.50,146.06 L439.54,146.51 L436.57,147.02 L433.61,147.58 L430.64,148.19 L427.68,148.85 L424.71,149.56 L421.75,150.31 L418.78,151.10 L415.81,151.92 L412.85,152.78 L409.88,153.66 L406.92,154.56 L403.95,155.48 L400.99,156.42 L398.02,157.38 L395.06,158.34 L392.09,159.32 L389.13,160.30 L386.16,161.30 L383.20,162.30Z" fill="#D0103C" fill-opacity="0.5" style="mix-blend-mode:multiply"/>
<line x1="365.2" y1="140.1" x2="507.6" y2="109.40" stroke="#0B4A8B" stroke-width="1.6"/>
<line x1="383.2" y1="152.1" x2="501.8" y2="129.68" stroke="#C8102E" stroke-width="1.6"/>
<circle cx="412" cy="97.2" r="1.55" fill="#C9082F"/>
<circle cx="383.5" cy="123.3" r="1.55" fill="#C9082F"/>
<circle cx="403.6" cy="138.5" r="1.55" fill="#C9082F"/>
<circle cx="401" cy="146.5" r="1.55" fill="#C9082F"/>
<circle cx="425.8" cy="138.7" r="1.55" fill="#C9082F"/>
<circle cx="390.9" cy="159.9" r="1.55" fill="#C9082F"/>
<circle cx="395.1" cy="160.7" r="1.55" fill="#C9082F"/>
<circle cx="397.9" cy="159.2" r="1.55" fill="#C9082F"/>
<circle cx="398.3" cy="163" r="1.55" fill="#C9082F"/>
<circle cx="408.4" cy="159.9" r="1.55" fill="#C9082F"/>
<circle cx="411.4" cy="159.2" r="1.55" fill="#C9082F"/>
<circle cx="415.6" cy="163" r="1.55" fill="#C9082F"/>
<circle cx="417.3" cy="161.3" r="1.55" fill="#C9082F"/>
<circle cx="419.4" cy="158.8" r="1.55" fill="#C9082F"/>
<circle cx="418.4" cy="160.3" r="1.55" fill="#C9082F"/>
<circle cx="477.3" cy="118.5" r="1.55" fill="#C9082F"/>
<circle cx="441.1" cy="120.5" r="1.55" fill="#C9082F"/>
<circle cx="502.4" cy="124.3" r="1.55" fill="#C9082F"/>
<circle cx="462.9" cy="126.9" r="1.55" fill="#C9082F"/>
<circle cx="433.9" cy="130" r="1.55" fill="#C9082F"/>
<circle cx="443.8" cy="131.7" r="1.55" fill="#C9082F"/>
<circle cx="437.1" cy="133.4" r="1.55" fill="#C9082F"/>
<circle cx="488.3" cy="133.8" r="1.55" fill="#C9082F"/>
<circle cx="432.2" cy="136.4" r="1.55" fill="#C9082F"/>
<circle cx="442.8" cy="137.4" r="1.55" fill="#C9082F"/>
<circle cx="446.4" cy="139.1" r="1.55" fill="#C9082F"/>
<circle cx="448.5" cy="141.7" r="1.55" fill="#C9082F"/>
<circle cx="468.2" cy="137.4" r="1.55" fill="#C9082F"/>
<circle cx="437.1" cy="141.9" r="1.55" fill="#C9082F"/>
<circle cx="464.6" cy="142.3" r="1.55" fill="#C9082F"/>
<circle cx="457" cy="145.9" r="1.55" fill="#C9082F"/>
<circle cx="484" cy="150.1" r="1.55" fill="#C9082F"/>
<circle cx="458.7" cy="151.4" r="1.55" fill="#C9082F"/>
<circle cx="460.8" cy="154.4" r="1.55" fill="#C9082F"/>
<circle cx="416.3" cy="161.8" r="1.55" fill="#C9082F"/>
<circle cx="379.7" cy="90.9" r="1.55" fill="#063F85"/>
<circle cx="413.5" cy="77.1" r="1.55" fill="#063F85"/>
<circle cx="415.8" cy="97.6" r="1.55" fill="#063F85"/>
<circle cx="379.7" cy="134.3" r="1.55" fill="#063F85"/>
<circle cx="406.3" cy="126.4" r="1.55" fill="#063F85"/>
<circle cx="414.1" cy="131.7" r="1.55" fill="#063F85"/>
<circle cx="403.6" cy="133.8" r="1.55" fill="#063F85"/>
<circle cx="424.1" cy="130.7" r="1.55" fill="#063F85"/>
<circle cx="419" cy="134.9" r="1.55" fill="#063F85"/>
<circle cx="420.5" cy="135.5" r="1.55" fill="#063F85"/>
<circle cx="365.1" cy="140.6" r="1.55" fill="#063F85"/>
<circle cx="392.3" cy="141.7" r="1.55" fill="#063F85"/>
<circle cx="400.8" cy="140.2" r="1.55" fill="#063F85"/>
<circle cx="406.3" cy="141.3" r="1.55" fill="#063F85"/>
<circle cx="403.6" cy="143.8" r="1.55" fill="#063F85"/>
<circle cx="408.4" cy="144.4" r="1.55" fill="#063F85"/>
<circle cx="388.1" cy="148" r="1.55" fill="#063F85"/>
<circle cx="407.2" cy="149.1" r="1.55" fill="#063F85"/>
<circle cx="374.6" cy="155.4" r="1.55" fill="#063F85"/>
<circle cx="467.8" cy="82.4" r="1.55" fill="#063F85"/>
<circle cx="444.3" cy="90.4" r="1.55" fill="#063F85"/>
<circle cx="495" cy="89.4" r="1.55" fill="#063F85"/>
<circle cx="448.1" cy="103.1" r="1.55" fill="#063F85"/>
<circle cx="474.5" cy="102.5" r="1.55" fill="#063F85"/>
<circle cx="482.6" cy="100.8" r="1.55" fill="#063F85"/>
<circle cx="473.9" cy="107.8" r="1.55" fill="#063F85"/>
<circle cx="486.2" cy="108.4" r="1.55" fill="#063F85"/>
<circle cx="451.5" cy="114.4" r="1.55" fill="#063F85"/>
<circle cx="459.3" cy="118.4" r="1.55" fill="#063F85"/>
<circle cx="507.7" cy="124.8" r="1.55" fill="#063F85"/>
<circle cx="457.2" cy="126.9" r="1.55" fill="#063F85"/>
<circle cx="438.6" cy="127.9" r="1.55" fill="#063F85"/>
<circle cx="444.5" cy="129.6" r="1.55" fill="#063F85"/>
<circle cx="448.1" cy="130.7" r="1.55" fill="#063F85"/>
<circle cx="455.5" cy="133.8" r="1.55" fill="#063F85"/>
<circle cx="451.9" cy="135.5" r="1.55" fill="#063F85"/>
<circle cx="460.3" cy="138.5" r="1.55" fill="#063F85"/>
<circle cx="486.8" cy="143.4" r="1.55" fill="#063F85"/>
<circle cx="459.1" cy="144.8" r="1.55" fill="#063F85"/>
<circle cx="440.9" cy="149.7" r="1.55" fill="#063F85"/>
<text x="7" y="250.9" font-size="11.5" fill="#000" text-anchor="start" font-weight="bold" textLength="8.3" lengthAdjust="spacingAndGlyphs">D</text>
<text x="149.5" y="258.0" font-size="9.9" fill="#111" text-anchor="start" textLength="59.2" lengthAdjust="spacingAndGlyphs" stroke="#111" stroke-width="0.22">STAT mutated</text>
<text x="323.0" y="258.2" font-size="9.9" fill="#111" text-anchor="start" textLength="61.9" lengthAdjust="spacingAndGlyphs" stroke="#111" stroke-width="0.22">STAT wild type</text>
<rect x="83.75" y="262.1" width="2.73" height="7.8" fill="#8598CD"/>
<rect x="87.03" y="262.1" width="2.73" height="7.8" fill="#8598CD"/>
<rect x="90.31" y="262.1" width="2.73" height="7.8" fill="#8598CD"/>
<rect x="93.59" y="262.1" width="2.73" height="7.8" fill="#8598CD"/>
<rect x="96.87" y="262.1" width="2.73" height="7.8" fill="#8598CD"/>
<rect x="100.15" y="262.1" width="2.73" height="7.8" fill="#8598CD"/>
<rect x="103.43" y="262.1" width="2.73" height="7.8" fill="#8598CD"/>
<rect x="106.71" y="262.1" width="2.73" height="7.8" fill="#8598CD"/>
<rect x="109.99" y="262.1" width="2.73" height="7.8" fill="#8598CD"/>
<rect x="113.27" y="262.1" width="2.73" height="7.8" fill="#8598CD"/>
<rect x="116.55" y="262.1" width="2.73" height="7.8" fill="#8598CD"/>
<rect x="119.83" y="262.1" width="2.73" height="7.8" fill="#8598CD"/>
<rect x="123.11" y="262.1" width="2.73" height="7.8" fill="#8598CD"/>
<rect x="126.39" y="262.1" width="2.73" height="7.8" fill="#8598CD"/>
<rect x="129.67" y="262.1" width="2.73" height="7.8" fill="#8598CD"/>
<rect x="132.95" y="262.1" width="2.73" height="7.8" fill="#8598CD"/>
<rect x="136.23" y="262.1" width="2.73" height="7.8" fill="#8598CD"/>
<rect x="139.51" y="262.1" width="2.73" height="7.8" fill="#8598CD"/>
<rect x="142.79" y="262.1" width="2.73" height="7.8" fill="#8598CD"/>
<rect x="146.07" y="262.1" width="2.73" height="7.8" fill="#8598CD"/>
<rect x="149.35" y="262.1" width="2.73" height="7.8" fill="#8598CD"/>
<rect x="152.63" y="262.1" width="2.73" height="7.8" fill="#8598CD"/>
<rect x="155.91" y="262.1" width="2.73" height="7.8" fill="#8598CD"/>
<rect x="159.19" y="262.1" width="2.73" height="7.8" fill="#8598CD"/>
<rect x="162.47" y="262.1" width="2.73" height="7.8" fill="#8598CD"/>
<rect x="165.75" y="262.1" width="2.73" height="7.8" fill="#8598CD"/>
<rect x="169.03" y="262.1" width="2.73" height="7.8" fill="#8598CD"/>
<rect x="172.31" y="262.1" width="2.73" height="7.8" fill="#8598CD"/>
<rect x="175.59" y="262.1" width="2.73" height="7.8" fill="#8598CD"/>
<rect x="178.87" y="262.1" width="2.73" height="7.8" fill="#8598CD"/>
<rect x="182.15" y="262.1" width="2.73" height="7.8" fill="#8598CD"/>
<rect x="185.43" y="262.1" width="2.73" height="7.8" fill="#8598CD"/>
<rect x="188.71" y="262.1" width="2.73" height="7.8" fill="#8598CD"/>
<rect x="191.99" y="262.1" width="2.73" height="7.8" fill="#8598CD"/>
<rect x="195.27" y="262.1" width="2.73" height="7.8" fill="#8598CD"/>
<rect x="198.55" y="262.1" width="2.73" height="7.8" fill="#8598CD"/>
<rect x="201.83" y="262.1" width="2.73" height="7.8" fill="#8598CD"/>
<rect x="205.11" y="262.1" width="2.73" height="7.8" fill="#8598CD"/>
<rect x="208.39" y="262.1" width="2.73" height="7.8" fill="#8598CD"/>
<rect x="211.67" y="262.1" width="2.73" height="7.8" fill="#8598CD"/>
<rect x="214.95" y="262.1" width="2.73" height="7.8" fill="#8598CD"/>
<rect x="218.23" y="262.1" width="2.73" height="7.8" fill="#8598CD"/>
<rect x="221.51" y="262.1" width="2.73" height="7.8" fill="#8598CD"/>
<rect x="224.79" y="262.1" width="2.73" height="7.8" fill="#8598CD"/>
<rect x="228.07" y="262.1" width="2.73" height="7.8" fill="#8598CD"/>
<rect x="231.35" y="262.1" width="2.73" height="7.8" fill="#8598CD"/>
<rect x="234.63" y="262.1" width="2.73" height="7.8" fill="#8598CD"/>
<rect x="237.91" y="262.1" width="2.73" height="7.8" fill="#8598CD"/>
<rect x="241.19" y="262.1" width="2.73" height="7.8" fill="#8598CD"/>
<rect x="244.47" y="262.1" width="2.73" height="7.8" fill="#8598CD"/>
<rect x="247.75" y="262.1" width="2.73" height="7.8" fill="#8598CD"/>
<rect x="251.03" y="262.1" width="2.73" height="7.8" fill="#5DBE98"/>
<rect x="254.31" y="262.1" width="2.73" height="7.8" fill="#5DBE98"/>
<rect x="257.59" y="262.1" width="2.73" height="7.8" fill="#5DBE98"/>
<rect x="260.87" y="262.1" width="2.73" height="7.8" fill="#5DBE98"/>
<rect x="264.15" y="262.1" width="2.73" height="7.8" fill="#5DBE98"/>
<rect x="83.50" y="273.75" width="183.68" height="6.30" fill="#E7E7E7"/>
<rect x="83.50" y="281.65" width="183.68" height="7.00" fill="#E7E7E7"/>
<rect x="83.50" y="289.35" width="183.68" height="7.00" fill="#E7E7E7"/>
<rect x="83.50" y="297.95" width="183.68" height="7.29" fill="#E7E7E7"/>
<rect x="83.50" y="305.94" width="183.68" height="7.29" fill="#E7E7E7"/>
<rect x="83.50" y="313.93" width="183.68" height="7.29" fill="#E7E7E7"/>
<rect x="83.50" y="321.92" width="183.68" height="7.29" fill="#E7E7E7"/>
<rect x="83.50" y="329.91" width="183.68" height="7.29" fill="#E7E7E7"/>
<rect x="83.50" y="337.90" width="183.68" height="7.29" fill="#E7E7E7"/>
<rect x="83.50" y="345.89" width="183.68" height="7.29" fill="#E7E7E7"/>
<rect x="83.50" y="353.88" width="183.68" height="7.29" fill="#E7E7E7"/>
<rect x="83.50" y="361.87" width="183.68" height="7.29" fill="#E7E7E7"/>
<rect x="83.50" y="369.86" width="183.68" height="7.29" fill="#E7E7E7"/>
<rect x="83.50" y="378.85" width="183.68" height="7.27" fill="#E7E7E7"/>
<rect x="83.50" y="386.82" width="183.68" height="7.27" fill="#E7E7E7"/>
<rect x="83.50" y="394.79" width="183.68" height="7.27" fill="#E7E7E7"/>
<rect x="83.50" y="402.76" width="183.68" height="7.27" fill="#E7E7E7"/>
<rect x="83.50" y="410.73" width="183.68" height="7.27" fill="#E7E7E7"/>
<rect x="83.50" y="418.70" width="183.68" height="7.27" fill="#E7E7E7"/>
<rect x="83.50" y="426.67" width="183.68" height="7.27" fill="#E7E7E7"/>
<rect x="83.50" y="434.64" width="183.68" height="7.27" fill="#E7E7E7"/>
<rect x="83.50" y="442.61" width="183.68" height="7.27" fill="#E7E7E7"/>
<rect x="83.50" y="450.58" width="183.68" height="7.27" fill="#E7E7E7"/>
<path d="M86.78 272.5V459 M90.06 272.5V459 M93.34 272.5V459 M96.62 272.5V459 M99.90 272.5V459 M103.18 272.5V459 M106.46 272.5V459 M109.74 272.5V459 M113.02 272.5V459 M116.30 272.5V459 M119.58 272.5V459 M122.86 272.5V459 M126.14 272.5V459 M129.42 272.5V459 M132.70 272.5V459 M135.98 272.5V459 M139.26 272.5V459 M142.54 272.5V459 M145.82 272.5V459 M149.10 272.5V459 M152.38 272.5V459 M155.66 272.5V459 M158.94 272.5V459 M162.22 272.5V459 M165.50 272.5V459 M168.78 272.5V459 M172.06 272.5V459 M175.34 272.5V459 M178.62 272.5V459 M181.90 272.5V459 M185.18 272.5V459 M188.46 272.5V459 M191.74 272.5V459 M195.02 272.5V459 M198.30 272.5V459 M201.58 272.5V459 M204.86 272.5V459 M208.14 272.5V459 M211.42 272.5V459 M214.70 272.5V459 M217.98 272.5V459 M221.26 272.5V459 M224.54 272.5V459 M227.82 272.5V459 M231.10 272.5V459 M234.38 272.5V459 M237.66 272.5V459 M240.94 272.5V459 M244.22 272.5V459 M247.50 272.5V459 M250.78 272.5V459 M254.06 272.5V459 M257.34 272.5V459 M260.62 272.5V459 M263.90 272.5V459" stroke="#F4F4F4" stroke-width="0.45" fill="none"/>
<rect x="84.29" y="273.70" width="1.7" height="6.40" fill="#9C9C9C"/>
<rect x="87.57" y="273.70" width="1.7" height="6.40" fill="#9C9C9C"/>
<rect x="90.85" y="273.70" width="1.7" height="6.40" fill="#9C9C9C"/>
<rect x="94.13" y="273.70" width="1.7" height="6.40" fill="#9C9C9C"/>
<rect x="97.41" y="273.70" width="1.7" height="6.40" fill="#9C9C9C"/>
<rect x="100.69" y="273.70" width="1.7" height="6.40" fill="#9C9C9C"/>
<rect x="103.97" y="273.70" width="1.7" height="6.40" fill="#9C9C9C"/>
<rect x="107.25" y="273.70" width="1.7" height="6.40" fill="#9C9C9C"/>
<rect x="110.53" y="273.70" width="1.7" height="6.40" fill="#9C9C9C"/>
<rect x="113.81" y="273.70" width="1.7" height="6.40" fill="#9C9C9C"/>
<rect x="120.37" y="273.70" width="1.7" height="6.40" fill="#9C9C9C"/>
<rect x="123.65" y="273.70" width="1.7" height="6.40" fill="#9C9C9C"/>
<rect x="130.21" y="273.70" width="1.7" height="6.40" fill="#9C9C9C"/>
<rect x="133.49" y="273.70" width="1.7" height="6.40" fill="#9C9C9C"/>
<rect x="136.77" y="273.70" width="1.7" height="6.40" fill="#9C9C9C"/>
<rect x="146.61" y="273.70" width="1.7" height="6.40" fill="#9C9C9C"/>
<rect x="149.89" y="273.70" width="1.7" height="6.40" fill="#9C9C9C"/>
<rect x="153.17" y="273.70" width="1.7" height="6.40" fill="#9C9C9C"/>
<rect x="163.01" y="273.70" width="1.7" height="6.40" fill="#9C9C9C"/>
<rect x="169.57" y="273.70" width="1.7" height="6.40" fill="#9C9C9C"/>
<rect x="172.85" y="273.70" width="1.7" height="6.40" fill="#9C9C9C"/>
<rect x="176.13" y="273.70" width="1.7" height="6.40" fill="#9C9C9C"/>
<rect x="179.41" y="273.70" width="1.7" height="6.40" fill="#9C9C9C"/>
<rect x="182.69" y="273.70" width="1.7" height="6.40" fill="#9C9C9C"/>
<rect x="185.97" y="273.70" width="1.7" height="6.40" fill="#9C9C9C"/>
<rect x="189.25" y="273.70" width="1.7" height="6.40" fill="#9C9C9C"/>
<rect x="192.53" y="273.70" width="1.7" height="6.40" fill="#9C9C9C"/>
<rect x="195.81" y="273.70" width="1.7" height="6.40" fill="#9C9C9C"/>
<rect x="251.57" y="273.70" width="1.7" height="6.40" fill="#9C9C9C"/>
<rect x="258.13" y="273.70" width="1.7" height="6.40" fill="#9C9C9C"/>
<rect x="84.09" y="281.95" width="2.1" height="6.40" fill="#2C9A45"/>
<rect x="87.37" y="281.95" width="2.1" height="6.40" fill="#2C9A45"/>
<rect x="90.65" y="281.95" width="2.1" height="6.40" fill="#2C9A45"/>
<rect x="93.93" y="281.95" width="2.1" height="6.40" fill="#000000"/>
<rect x="97.21" y="281.95" width="2.1" height="6.40" fill="#2C9A45"/>
<rect x="100.49" y="281.95" width="2.1" height="6.40" fill="#2C9A45"/>
<rect x="103.77" y="281.95" width="2.1" height="6.40" fill="#2C9A45"/>
<rect x="107.05" y="281.95" width="2.1" height="6.40" fill="#2C9A45"/>
<rect x="110.33" y="281.95" width="2.1" height="6.40" fill="#2C9A45"/>
<rect x="113.61" y="281.95" width="2.1" height="6.40" fill="#2C9A45"/>
<rect x="116.89" y="281.95" width="2.1" height="6.40" fill="#2C9A45"/>
<rect x="120.17" y="281.95" width="2.1" height="6.40" fill="#2C9A45"/>
<rect x="123.45" y="281.95" width="2.1" height="6.40" fill="#2C9A45"/>
<rect x="126.73" y="281.95" width="2.1" height="6.40" fill="#000000"/>
<rect x="130.01" y="281.95" width="2.1" height="6.40" fill="#2C9A45"/>
<rect x="133.29" y="281.95" width="2.1" height="6.40" fill="#2C9A45"/>
<rect x="136.57" y="281.95" width="2.1" height="6.40" fill="#2C9A45"/>
<rect x="139.85" y="281.95" width="2.1" height="6.40" fill="#2C9A45"/>
<rect x="143.13" y="281.95" width="2.1" height="6.40" fill="#2C9A45"/>
<rect x="146.41" y="281.95" width="2.1" height="6.40" fill="#2C9A45"/>
<rect x="149.69" y="281.95" width="2.1" height="6.40" fill="#2C9A45"/>
<rect x="152.97" y="281.95" width="2.1" height="6.40" fill="#2C9A45"/>
<rect x="156.25" y="281.95" width="2.1" height="6.40" fill="#2C9A45"/>
<rect x="159.53" y="281.95" width="2.1" height="6.40" fill="#2C9A45"/>
<rect x="162.81" y="281.95" width="2.1" height="6.40" fill="#2C9A45"/>
<rect x="166.09" y="281.95" width="2.1" height="6.40" fill="#2C9A45"/>
<rect x="169.37" y="281.95" width="2.1" height="6.40" fill="#2C9A45"/>
<rect x="172.65" y="281.95" width="2.1" height="6.40" fill="#2C9A45"/>
<rect x="175.93" y="281.95" width="2.1" height="6.40" fill="#2C9A45"/>
<rect x="179.21" y="281.95" width="2.1" height="6.40" fill="#2C9A45"/>
<rect x="182.49" y="281.95" width="2.1" height="6.40" fill="#2C9A45"/>
<rect x="185.77" y="281.95" width="2.1" height="6.40" fill="#2C9A45"/>
<rect x="189.05" y="281.95" width="2.1" height="6.40" fill="#2C9A45"/>
<rect x="192.33" y="281.95" width="2.1" height="6.40" fill="#000000"/>
<rect x="195.61" y="281.95" width="2.1" height="6.40" fill="#2C9A45"/>
<rect x="198.89" y="281.95" width="2.1" height="6.40" fill="#2C9A45"/>
<rect x="202.17" y="281.95" width="2.1" height="6.40" fill="#2C9A45"/>
<rect x="205.45" y="281.95" width="2.1" height="6.40" fill="#2C9A45"/>
<rect x="208.73" y="281.95" width="2.1" height="6.40" fill="#2C9A45"/>
<rect x="212.01" y="281.95" width="2.1" height="6.40" fill="#2C9A45"/>
<rect x="215.29" y="281.95" width="2.1" height="6.40" fill="#2C9A45"/>
<rect x="218.57" y="281.95" width="2.1" height="6.40" fill="#2C9A45"/>
<rect x="221.85" y="281.95" width="2.1" height="6.40" fill="#2C9A45"/>
<rect x="225.13" y="281.95" width="2.1" height="6.40" fill="#2C9A45"/>
<rect x="228.41" y="281.95" width="2.1" height="6.40" fill="#2C9A45"/>
<rect x="231.69" y="281.95" width="2.1" height="6.40" fill="#2C9A45"/>
<rect x="234.97" y="281.95" width="2.1" height="6.40" fill="#2C9A45"/>
<rect x="238.25" y="281.95" width="2.1" height="6.40" fill="#2C9A45"/>
<rect x="241.53" y="281.95" width="2.1" height="6.40" fill="#2C9A45"/>
<rect x="254.65" y="281.95" width="2.1" height="6.40" fill="#2C9A45"/>
<rect x="257.93" y="281.95" width="2.1" height="6.40" fill="#2C9A45"/>
<rect x="264.49" y="281.95" width="2.1" height="6.40" fill="#2C9A45"/>
<rect x="261.21" y="281.95" width="2.1" height="6.40" fill="#000000"/>
<rect x="244.81" y="289.65" width="2.1" height="6.40" fill="#2C9A45"/>
<rect x="248.09" y="289.65" width="2.1" height="6.40" fill="#2C9A45"/>
<rect x="251.37" y="289.65" width="2.1" height="6.40" fill="#2C9A45"/>
<rect x="133.29" y="322.22" width="2.1" height="6.69" fill="#2C9A45"/>
<rect x="90.65" y="330.21" width="2.1" height="6.69" fill="#2C9A45"/>
<rect x="143.13" y="330.21" width="2.1" height="6.69" fill="#DA2128"/>
<rect x="90.65" y="338.20" width="2.1" height="6.69" fill="#7A3F9E"/>
<rect x="120.17" y="338.20" width="2.1" height="6.69" fill="#2C9A45"/>
<rect x="169.37" y="338.20" width="2.1" height="6.69" fill="#000000"/>
<rect x="87.37" y="362.17" width="2.1" height="6.69" fill="#2C9A45"/>
<rect x="97.21" y="362.17" width="2.1" height="6.69" fill="#2C9A45"/>
<rect x="133.29" y="370.16" width="2.1" height="6.69" fill="#2C9A45"/>
<rect x="84.09" y="379.15" width="2.1" height="6.67" fill="#DA2128"/>
<rect x="87.37" y="379.15" width="2.1" height="6.67" fill="#DA2128"/>
<rect x="97.21" y="379.15" width="2.1" height="6.67" fill="#DA2128"/>
<rect x="107.05" y="379.15" width="2.1" height="6.67" fill="#DA2128"/>
<rect x="90.65" y="379.15" width="2.1" height="6.67" fill="#F47D20"/>
<rect x="93.93" y="379.15" width="2.1" height="6.67" fill="#000000"/>
<rect x="100.49" y="379.15" width="2.1" height="6.67" fill="#2C9A45"/>
<rect x="103.77" y="379.15" width="2.1" height="6.67" fill="#2166AC"/>
<rect x="110.33" y="379.15" width="2.1" height="6.67" fill="#2166AC"/>
<rect x="257.93" y="379.15" width="2.1" height="6.67" fill="#4B2A8E"/>
<rect x="84.09" y="387.12" width="2.1" height="6.67" fill="#4B2A8E"/>
<rect x="87.37" y="387.12" width="2.1" height="6.67" fill="#000000"/>
<rect x="113.61" y="387.12" width="2.1" height="6.67" fill="#DA2128"/>
<rect x="126.73" y="387.12" width="2.1" height="6.67" fill="#DA2128"/>
<rect x="116.89" y="387.12" width="2.1" height="6.67" fill="#2C9A45"/>
<rect x="120.17" y="387.12" width="2.1" height="6.67" fill="#2166AC"/>
<rect x="123.45" y="387.12" width="2.1" height="6.67" fill="#2166AC"/>
<rect x="84.09" y="395.09" width="2.1" height="6.67" fill="#F47D20"/>
<rect x="113.61" y="395.09" width="2.1" height="6.67" fill="#F47D20"/>
<rect x="136.57" y="395.09" width="2.1" height="6.67" fill="#F47D20"/>
<rect x="90.65" y="395.09" width="2.1" height="6.67" fill="#2166AC"/>
<rect x="130.01" y="395.09" width="2.1" height="6.67" fill="#F7EE8C"/>
<rect x="133.29" y="395.09" width="2.1" height="6.67" fill="#2C9A45"/>
<rect x="90.65" y="403.06" width="2.1" height="6.67" fill="#DA2128"/>
<rect x="139.85" y="403.06" width="2.1" height="6.67" fill="#2C9A45"/>
<rect x="143.13" y="403.06" width="2.1" height="6.67" fill="#2C9A45"/>
<rect x="146.41" y="403.06" width="2.1" height="6.67" fill="#2C9A45"/>
<rect x="244.81" y="403.06" width="2.1" height="6.67" fill="#2C9A45"/>
<rect x="93.93" y="411.03" width="2.1" height="6.67" fill="#2166AC"/>
<rect x="130.01" y="411.03" width="2.1" height="6.67" fill="#2166AC"/>
<rect x="149.69" y="411.03" width="2.1" height="6.67" fill="#2166AC"/>
<rect x="152.97" y="411.03" width="2.1" height="6.67" fill="#DA2128"/>
<rect x="156.25" y="411.03" width="2.1" height="6.67" fill="#DA2128"/>
<rect x="84.09" y="419.00" width="2.1" height="6.67" fill="#2C9A45"/>
<rect x="90.65" y="419.00" width="2.1" height="6.67" fill="#2C9A45"/>
<rect x="97.21" y="419.00" width="2.1" height="6.67" fill="#2C9A45"/>
<rect x="159.53" y="419.00" width="2.1" height="6.67" fill="#2C9A45"/>
<rect x="93.93" y="426.97" width="2.1" height="6.67" fill="#2C9A45"/>
<rect x="116.89" y="426.97" width="2.1" height="6.67" fill="#2C9A45"/>
<rect x="100.49" y="426.97" width="2.1" height="6.67" fill="#7A3F9E"/>
<rect x="149.69" y="434.94" width="2.1" height="6.67" fill="#2166AC"/>
<rect x="162.81" y="434.94" width="2.1" height="6.67" fill="#000000"/>
<rect x="261.21" y="434.94" width="2.1" height="6.67" fill="#4B2A8E"/>
<rect x="84.09" y="442.91" width="2.1" height="6.67" fill="#2C9A45"/>
<rect x="133.29" y="442.91" width="2.1" height="6.67" fill="#2C9A45"/>
<rect x="257.93" y="442.91" width="2.1" height="6.67" fill="#2C9A45"/>
<rect x="139.85" y="450.88" width="2.1" height="6.67" fill="#2C9A45"/>
<rect x="159.53" y="450.88" width="2.1" height="6.67" fill="#2C9A45"/>
<rect x="166.09" y="450.88" width="2.1" height="6.67" fill="#2C9A45"/>
<rect x="83.50" y="461.2" width="3.33" height="8.2" fill="#F8C0A8"/>
<rect x="86.78" y="461.2" width="3.33" height="8.2" fill="#F8B8A0"/>
<rect x="90.06" y="461.2" width="3.33" height="8.2" fill="#F07058"/>
<rect x="93.34" y="461.2" width="3.33" height="8.2" fill="#FCE8E0"/>
<rect x="96.62" y="461.2" width="3.33" height="8.2" fill="#F8C0A8"/>
<rect x="99.90" y="461.2" width="3.33" height="8.2" fill="#F8C0A8"/>
<rect x="103.18" y="461.2" width="3.33" height="8.2" fill="#FAD0C0"/>
<rect x="106.46" y="461.2" width="3.33" height="8.2" fill="#FCF0F0"/>
<rect x="109.74" y="461.2" width="3.33" height="8.2" fill="#FCE0D8"/>
<rect x="113.02" y="461.2" width="3.33" height="8.2" fill="#F4A090"/>
<rect x="116.30" y="461.2" width="3.33" height="8.2" fill="#E8E0F4"/>
<rect x="119.58" y="461.2" width="3.33" height="8.2" fill="#E8E0F4"/>
<rect x="122.86" y="461.2" width="3.33" height="8.2" fill="#FCF0F0"/>
<rect x="126.14" y="461.2" width="3.33" height="8.2" fill="#FCE0D8"/>
<rect x="129.42" y="461.2" width="3.33" height="8.2" fill="#FDF4F0"/>
<rect x="132.70" y="461.2" width="3.33" height="8.2" fill="#FAD8C8"/>
<rect x="135.98" y="461.2" width="3.33" height="8.2" fill="#FCEEE8"/>
<rect x="139.26" y="461.2" width="3.33" height="8.2" fill="#FFFFFF"/>
<rect x="142.54" y="461.2" width="3.33" height="8.2" fill="#FFFFFF"/>
<rect x="145.82" y="461.2" width="3.33" height="8.2" fill="#7D70C0"/>
<rect x="149.10" y="461.2" width="3.33" height="8.2" fill="#F8B090"/>
<rect x="152.38" y="461.2" width="3.33" height="8.2" fill="#A898D4"/>
<rect x="155.66" y="461.2" width="3.33" height="8.2" fill="#F8C8B0"/>
<rect x="158.94" y="461.2" width="3.33" height="8.2" fill="#D8D0EC"/>
<rect x="162.22" y="461.2" width="3.33" height="8.2" fill="#FFFFFF"/>
<rect x="165.50" y="461.2" width="3.33" height="8.2" fill="#A8A0D8"/>
<rect x="168.78" y="461.2" width="3.33" height="8.2" fill="#F8B8A0"/>
<rect x="172.06" y="461.2" width="3.33" height="8.2" fill="#E0D8F0"/>
<rect x="175.34" y="461.2" width="3.33" height="8.2" fill="#5048A8"/>
<rect x="178.62" y="461.2" width="3.33" height="8.2" fill="#FBE0D0"/>
<rect x="181.90" y="461.2" width="3.33" height="8.2" fill="#ECE4F4"/>
<rect x="185.18" y="461.2" width="3.33" height="8.2" fill="#D0C4E8"/>
<rect x="188.46" y="461.2" width="3.33" height="8.2" fill="#FFFFFF"/>
<rect x="191.74" y="461.2" width="3.33" height="8.2" fill="#FFF8F5"/>
<rect x="195.02" y="461.2" width="3.33" height="8.2" fill="#FFFFFF"/>
<rect x="198.30" y="461.2" width="3.33" height="8.2" fill="#FFFFFF"/>
<rect x="201.58" y="461.2" width="3.33" height="8.2" fill="#8C80C8"/>
<rect x="204.86" y="461.2" width="3.33" height="8.2" fill="#FFFFFF"/>
<rect x="208.14" y="461.2" width="3.33" height="8.2" fill="#F08060"/>
<rect x="211.42" y="461.2" width="3.33" height="8.2" fill="#FFFFFF"/>
<rect x="214.70" y="461.2" width="3.33" height="8.2" fill="#FAC8A8"/>
<rect x="217.98" y="461.2" width="3.33" height="8.2" fill="#B0A4DC"/>
<rect x="221.26" y="461.2" width="3.33" height="8.2" fill="#9488CC"/>
<rect x="224.54" y="461.2" width="3.33" height="8.2" fill="#B8ACE0"/>
<rect x="227.82" y="461.2" width="3.33" height="8.2" fill="#9080C8"/>
<rect x="231.10" y="461.2" width="3.33" height="8.2" fill="#8C7CC8"/>
<rect x="234.38" y="461.2" width="3.33" height="8.2" fill="#F0E8F8"/>
<rect x="237.66" y="461.2" width="3.33" height="8.2" fill="#A898D8"/>
<rect x="240.94" y="461.2" width="3.33" height="8.2" fill="#FFFFFF"/>
<rect x="244.22" y="461.2" width="3.33" height="8.2" fill="#FAC8B0"/>
<rect x="247.50" y="461.2" width="3.33" height="8.2" fill="#FAC8B0"/>
<rect x="250.78" y="461.2" width="3.33" height="8.2" fill="#FAC8B8"/>
<rect x="254.06" y="461.2" width="3.33" height="8.2" fill="#E0C8E0"/>
<rect x="257.34" y="461.2" width="3.33" height="8.2" fill="#F8B8A0"/>
<rect x="260.62" y="461.2" width="3.33" height="8.2" fill="#F8C0A8"/>
<rect x="263.90" y="461.2" width="3.33" height="8.2" fill="#ECE4F4"/>
<rect x="271.25" y="262.1" width="2.73" height="7.8" fill="#8598CD"/>
<rect x="274.53" y="262.1" width="2.73" height="7.8" fill="#8598CD"/>
<rect x="277.81" y="262.1" width="2.73" height="7.8" fill="#8598CD"/>
<rect x="281.09" y="262.1" width="2.73" height="7.8" fill="#8598CD"/>
<rect x="284.37" y="262.1" width="2.73" height="7.8" fill="#8598CD"/>
<rect x="287.65" y="262.1" width="2.73" height="7.8" fill="#8598CD"/>
<rect x="290.93" y="262.1" width="2.73" height="7.8" fill="#8598CD"/>
<rect x="294.21" y="262.1" width="2.73" height="7.8" fill="#8598CD"/>
<rect x="297.49" y="262.1" width="2.73" height="7.8" fill="#8598CD"/>
<rect x="300.77" y="262.1" width="2.73" height="7.8" fill="#8598CD"/>
<rect x="304.05" y="262.1" width="2.73" height="7.8" fill="#8598CD"/>
<rect x="307.33" y="262.1" width="2.73" height="7.8" fill="#8598CD"/>
<rect x="310.61" y="262.1" width="2.73" height="7.8" fill="#8598CD"/>
<rect x="313.89" y="262.1" width="2.73" height="7.8" fill="#8598CD"/>
<rect x="317.17" y="262.1" width="2.73" height="7.8" fill="#8598CD"/>
<rect x="320.45" y="262.1" width="2.73" height="7.8" fill="#8598CD"/>
<rect x="323.73" y="262.1" width="2.73" height="7.8" fill="#8598CD"/>
<rect x="327.01" y="262.1" width="2.73" height="7.8" fill="#8598CD"/>
<rect x="330.29" y="262.1" width="2.73" height="7.8" fill="#8598CD"/>
<rect x="333.57" y="262.1" width="2.73" height="7.8" fill="#8598CD"/>
<rect x="336.85" y="262.1" width="2.73" height="7.8" fill="#8598CD"/>
<rect x="340.13" y="262.1" width="2.73" height="7.8" fill="#8598CD"/>
<rect x="343.41" y="262.1" width="2.73" height="7.8" fill="#8598CD"/>
<rect x="346.69" y="262.1" width="2.73" height="7.8" fill="#8598CD"/>
<rect x="349.97" y="262.1" width="2.73" height="7.8" fill="#8598CD"/>
<rect x="353.25" y="262.1" width="2.73" height="7.8" fill="#8598CD"/>
<rect x="356.53" y="262.1" width="2.73" height="7.8" fill="#8598CD"/>
<rect x="359.81" y="262.1" width="2.73" height="7.8" fill="#8598CD"/>
<rect x="363.09" y="262.1" width="2.73" height="7.8" fill="#8598CD"/>
<rect x="366.37" y="262.1" width="2.73" height="7.8" fill="#8598CD"/>
<rect x="369.65" y="262.1" width="2.73" height="7.8" fill="#8598CD"/>
<rect x="372.93" y="262.1" width="2.73" height="7.8" fill="#8598CD"/>
<rect x="376.21" y="262.1" width="2.73" height="7.8" fill="#8598CD"/>
<rect x="379.49" y="262.1" width="2.73" height="7.8" fill="#8598CD"/>
<rect x="382.77" y="262.1" width="2.73" height="7.8" fill="#8598CD"/>
<rect x="386.05" y="262.1" width="2.73" height="7.8" fill="#8598CD"/>
<rect x="389.33" y="262.1" width="2.73" height="7.8" fill="#8598CD"/>
<rect x="392.61" y="262.1" width="2.73" height="7.8" fill="#8598CD"/>
<rect x="395.89" y="262.1" width="2.73" height="7.8" fill="#8598CD"/>
<rect x="399.17" y="262.1" width="2.73" height="7.8" fill="#8598CD"/>
<rect x="402.45" y="262.1" width="2.73" height="7.8" fill="#8598CD"/>
<rect x="405.73" y="262.1" width="2.73" height="7.8" fill="#8598CD"/>
<rect x="409.01" y="262.1" width="2.73" height="7.8" fill="#5DBE98"/>
<rect x="412.29" y="262.1" width="2.73" height="7.8" fill="#5DBE98"/>
<rect x="415.57" y="262.1" width="2.73" height="7.8" fill="#5DBE98"/>
<rect x="418.85" y="262.1" width="2.73" height="7.8" fill="#5DBE98"/>
<rect x="422.13" y="262.1" width="2.73" height="7.8" fill="#5DBE98"/>
<rect x="425.41" y="262.1" width="2.73" height="7.8" fill="#5DBE98"/>
<rect x="428.69" y="262.1" width="2.73" height="7.8" fill="#5DBE98"/>
<rect x="271.00" y="273.75" width="160.72" height="6.30" fill="#E7E7E7"/>
<rect x="271.00" y="281.65" width="160.72" height="7.00" fill="#E7E7E7"/>
<rect x="271.00" y="289.35" width="160.72" height="7.00" fill="#E7E7E7"/>
<rect x="271.00" y="297.95" width="160.72" height="7.29" fill="#E7E7E7"/>
<rect x="271.00" y="305.94" width="160.72" height="7.29" fill="#E7E7E7"/>
<rect x="271.00" y="313.93" width="160.72" height="7.29" fill="#E7E7E7"/>
<rect x="271.00" y="321.92" width="160.72" height="7.29" fill="#E7E7E7"/>
<rect x="271.00" y="329.91" width="160.72" height="7.29" fill="#E7E7E7"/>
<rect x="271.00" y="337.90" width="160.72" height="7.29" fill="#E7E7E7"/>
<rect x="271.00" y="345.89" width="160.72" height="7.29" fill="#E7E7E7"/>
<rect x="271.00" y="353.88" width="160.72" height="7.29" fill="#E7E7E7"/>
<rect x="271.00" y="361.87" width="160.72" height="7.29" fill="#E7E7E7"/>
<rect x="271.00" y="369.86" width="160.72" height="7.29" fill="#E7E7E7"/>
<rect x="271.00" y="378.85" width="160.72" height="7.27" fill="#E7E7E7"/>
<rect x="271.00" y="386.82" width="160.72" height="7.27" fill="#E7E7E7"/>
<rect x="271.00" y="394.79" width="160.72" height="7.27" fill="#E7E7E7"/>
<rect x="271.00" y="402.76" width="160.72" height="7.27" fill="#E7E7E7"/>
<rect x="271.00" y="410.73" width="160.72" height="7.27" fill="#E7E7E7"/>
<rect x="271.00" y="418.70" width="160.72" height="7.27" fill="#E7E7E7"/>
<rect x="271.00" y="426.67" width="160.72" height="7.27" fill="#E7E7E7"/>
<rect x="271.00" y="434.64" width="160.72" height="7.27" fill="#E7E7E7"/>
<rect x="271.00" y="442.61" width="160.72" height="7.27" fill="#E7E7E7"/>
<rect x="271.00" y="450.58" width="160.72" height="7.27" fill="#E7E7E7"/>
<path d="M274.28 272.5V459 M277.56 272.5V459 M280.84 272.5V459 M284.12 272.5V459 M287.40 272.5V459 M290.68 272.5V459 M293.96 272.5V459 M297.24 272.5V459 M300.52 272.5V459 M303.80 272.5V459 M307.08 272.5V459 M310.36 272.5V459 M313.64 272.5V459 M316.92 272.5V459 M320.20 272.5V459 M323.48 272.5V459 M326.76 272.5V459 M330.04 272.5V459 M333.32 272.5V459 M336.60 272.5V459 M339.88 272.5V459 M343.16 272.5V459 M346.44 272.5V459 M349.72 272.5V459 M353.00 272.5V459 M356.28 272.5V459 M359.56 272.5V459 M362.84 272.5V459 M366.12 272.5V459 M369.40 272.5V459 M372.68 272.5V459 M375.96 272.5V459 M379.24 272.5V459 M382.52 272.5V459 M385.80 272.5V459 M389.08 272.5V459 M392.36 272.5V459 M395.64 272.5V459 M398.92 272.5V459 M402.20 272.5V459 M405.48 272.5V459 M408.76 272.5V459 M412.04 272.5V459 M415.32 272.5V459 M418.60 272.5V459 M421.88 272.5V459 M425.16 272.5V459 M428.44 272.5V459" stroke="#F4F4F4" stroke-width="0.45" fill="none"/>
<rect x="271.79" y="273.70" width="1.7" height="6.40" fill="#9C9C9C"/>
<rect x="284.91" y="273.70" width="1.7" height="6.40" fill="#9C9C9C"/>
<rect x="288.19" y="273.70" width="1.7" height="6.40" fill="#9C9C9C"/>
<rect x="291.47" y="273.70" width="1.7" height="6.40" fill="#9C9C9C"/>
<rect x="314.43" y="273.70" width="1.7" height="6.40" fill="#9C9C9C"/>
<rect x="317.71" y="273.70" width="1.7" height="6.40" fill="#9C9C9C"/>
<rect x="330.83" y="273.70" width="1.7" height="6.40" fill="#9C9C9C"/>
<rect x="334.11" y="273.70" width="1.7" height="6.40" fill="#9C9C9C"/>
<rect x="337.39" y="273.70" width="1.7" height="6.40" fill="#9C9C9C"/>
<rect x="284.71" y="298.25" width="2.1" height="6.69" fill="#2C9A45"/>
<rect x="287.99" y="298.25" width="2.1" height="6.69" fill="#2C9A45"/>
<rect x="291.27" y="298.25" width="2.1" height="6.69" fill="#2C9A45"/>
<rect x="294.55" y="306.24" width="2.1" height="6.69" fill="#2C9A45"/>
<rect x="412.63" y="306.24" width="2.1" height="6.69" fill="#2C9A45"/>
<rect x="297.83" y="306.24" width="2.1" height="6.69" fill="#F7EE8C"/>
<rect x="301.11" y="314.23" width="2.1" height="6.69" fill="#2C9A45"/>
<rect x="412.63" y="314.23" width="2.1" height="6.69" fill="#DA2128"/>
<rect x="294.55" y="322.22" width="2.1" height="6.69" fill="#2C9A45"/>
<rect x="304.39" y="322.22" width="2.1" height="6.69" fill="#2C9A45"/>
<rect x="307.67" y="330.21" width="2.1" height="6.69" fill="#2C9A45"/>
<rect x="310.95" y="330.21" width="2.1" height="6.69" fill="#7A3F9E"/>
<rect x="314.23" y="338.20" width="2.1" height="6.69" fill="#2C9A45"/>
<rect x="317.51" y="338.20" width="2.1" height="6.69" fill="#7A3F9E"/>
<rect x="271.59" y="346.19" width="2.1" height="6.69" fill="#2C9A45"/>
<rect x="320.79" y="346.19" width="2.1" height="6.69" fill="#2C9A45"/>
<rect x="294.55" y="354.18" width="2.1" height="6.69" fill="#2C9A45"/>
<rect x="324.07" y="354.18" width="2.1" height="6.69" fill="#2C9A45"/>
<rect x="301.11" y="362.17" width="2.1" height="6.69" fill="#2C9A45"/>
<rect x="327.35" y="362.17" width="2.1" height="6.69" fill="#7A3F9E"/>
<rect x="314.23" y="370.16" width="2.1" height="6.69" fill="#2C9A45"/>
<rect x="425.75" y="370.16" width="2.1" height="6.69" fill="#2C9A45"/>
<rect x="271.59" y="379.15" width="2.1" height="6.67" fill="#F7EE8C"/>
<rect x="274.87" y="387.12" width="2.1" height="6.67" fill="#DA2128"/>
<rect x="278.15" y="387.12" width="2.1" height="6.67" fill="#000000"/>
<rect x="281.43" y="426.97" width="2.1" height="6.67" fill="#2C9A45"/>
<rect x="271.00" y="461.2" width="3.33" height="8.2" fill="#FCE8E0"/>
<rect x="274.28" y="461.2" width="3.33" height="8.2" fill="#ECE4F4"/>
<rect x="277.56" y="461.2" width="3.33" height="8.2" fill="#E4DCF0"/>
<rect x="280.84" y="461.2" width="3.33" height="8.2" fill="#E4DCF0"/>
<rect x="284.12" y="461.2" width="3.33" height="8.2" fill="#FCE4D8"/>
<rect x="287.40" y="461.2" width="3.33" height="8.2" fill="#F0ECF8"/>
<rect x="290.68" y="461.2" width="3.33" height="8.2" fill="#FFFFFF"/>
<rect x="293.96" y="461.2" width="3.33" height="8.2" fill="#FCDCC8"/>
<rect x="297.24" y="461.2" width="3.33" height="8.2" fill="#4038A0"/>
<rect x="300.52" y="461.2" width="3.33" height="8.2" fill="#FFFFFF"/>
<rect x="303.80" y="461.2" width="3.33" height="8.2" fill="#E8E0F4"/>
<rect x="307.08" y="461.2" width="3.33" height="8.2" fill="#DCD0EC"/>
<rect x="310.36" y="461.2" width="3.33" height="8.2" fill="#F8F4FC"/>
<rect x="313.64" y="461.2" width="3.33" height="8.2" fill="#E4DCF0"/>
<rect x="316.92" y="461.2" width="3.33" height="8.2" fill="#C8B8E0"/>
<rect x="320.20" y="461.2" width="3.33" height="8.2" fill="#E8E0F4"/>
<rect x="323.48" y="461.2" width="3.33" height="8.2" fill="#B8A8DC"/>
<rect x="326.76" y="461.2" width="3.33" height="8.2" fill="#6058B8"/>
<rect x="330.04" y="461.2" width="3.33" height="8.2" fill="#FFFFFF"/>
<rect x="333.32" y="461.2" width="3.33" height="8.2" fill="#FFF8F4"/>
<rect x="336.60" y="461.2" width="3.33" height="8.2" fill="#FFFFFF"/>
<rect x="339.88" y="461.2" width="3.33" height="8.2" fill="#5850B4"/>
<rect x="343.16" y="461.2" width="3.33" height="8.2" fill="#5850B4"/>
<rect x="346.44" y="461.2" width="3.33" height="8.2" fill="#6C5CB8"/>
<rect x="349.72" y="461.2" width="3.33" height="8.2" fill="#5048B0"/>
<rect x="353.00" y="461.2" width="3.33" height="8.2" fill="#5850B8"/>
<rect x="356.28" y="461.2" width="3.33" height="8.2" fill="#FFFFFF"/>
<rect x="359.56" y="461.2" width="3.33" height="8.2" fill="#6860B8"/>
<rect x="362.84" y="461.2" width="3.33" height="8.2" fill="#FFFFFF"/>
<rect x="366.12" y="461.2" width="3.33" height="8.2" fill="#7060B8"/>
<rect x="369.40" y="461.2" width="3.33" height="8.2" fill="#FFFFFF"/>
<rect x="372.68" y="461.2" width="3.33" height="8.2" fill="#5850B0"/>
<rect x="375.96" y="461.2" width="3.33" height="8.2" fill="#D8D0EC"/>
<rect x="379.24" y="461.2" width="3.33" height="8.2" fill="#E8E0F4"/>
<rect x="382.52" y="461.2" width="3.33" height="8.2" fill="#FFFFFF"/>
<rect x="385.80" y="461.2" width="3.33" height="8.2" fill="#4840A8"/>
<rect x="389.08" y="461.2" width="3.33" height="8.2" fill="#A898D4"/>
<rect x="392.36" y="461.2" width="3.33" height="8.2" fill="#4840A8"/>
<rect x="395.64" y="461.2" width="3.33" height="8.2" fill="#7060B8"/>
<rect x="398.92" y="461.2" width="3.33" height="8.2" fill="#4038A8"/>
<rect x="402.20" y="461.2" width="3.33" height="8.2" fill="#D0D0E0"/>
<rect x="405.48" y="461.2" width="3.33" height="8.2" fill="#4840A8"/>
<rect x="408.76" y="461.2" width="3.33" height="8.2" fill="#5048B0"/>
<rect x="412.04" y="461.2" width="3.33" height="8.2" fill="#FFFFFF"/>
<rect x="415.32" y="461.2" width="3.33" height="8.2" fill="#6C5CBC"/>
<rect x="418.60" y="461.2" width="3.33" height="8.2" fill="#8070C4"/>
<rect x="421.88" y="461.2" width="3.33" height="8.2" fill="#8474C8"/>
<rect x="425.16" y="461.2" width="3.33" height="8.2" fill="#8070C0"/>
<rect x="428.44" y="461.2" width="3.33" height="8.2" fill="#8878C8"/>
<line x1="82.64999999999999" y1="272.75" x2="267.95" y2="272.75" stroke="#111" stroke-width="1.4"/>
<line x1="82.64999999999999" y1="280.75" x2="267.95" y2="280.75" stroke="#111" stroke-width="1.4"/>
<line x1="82.64999999999999" y1="297.1" x2="267.95" y2="297.1" stroke="#111" stroke-width="1.4"/>
<line x1="82.64999999999999" y1="378.0" x2="267.95" y2="378.0" stroke="#111" stroke-width="1.4"/>
<line x1="82.64999999999999" y1="458.65" x2="267.95" y2="458.65" stroke="#111" stroke-width="1.4"/>
<line x1="83.3" y1="272.1" x2="83.3" y2="459.3" stroke="#111" stroke-width="1.4"/>
<line x1="267.3" y1="272.1" x2="267.3" y2="459.3" stroke="#111" stroke-width="1.4"/>
<line x1="270.25" y1="272.75" x2="432.45" y2="272.75" stroke="#111" stroke-width="1.4"/>
<line x1="270.25" y1="280.75" x2="432.45" y2="280.75" stroke="#111" stroke-width="1.4"/>
<line x1="270.25" y1="297.1" x2="432.45" y2="297.1" stroke="#111" stroke-width="1.4"/>
<line x1="270.25" y1="378.0" x2="432.45" y2="378.0" stroke="#111" stroke-width="1.4"/>
<line x1="270.25" y1="458.65" x2="432.45" y2="458.65" stroke="#111" stroke-width="1.4"/>
<line x1="270.9" y1="272.1" x2="270.9" y2="459.3" stroke="#111" stroke-width="1.4"/>
<line x1="431.8" y1="272.1" x2="431.8" y2="459.3" stroke="#111" stroke-width="1.4"/>
<line x1="266.6" y1="272.75" x2="271.6" y2="272.75" stroke="#111" stroke-width="1.4"/>
<line x1="266.6" y1="280.75" x2="271.6" y2="280.75" stroke="#111" stroke-width="1.4"/>
<line x1="266.6" y1="297.1" x2="271.6" y2="297.1" stroke="#111" stroke-width="1.4"/>
<line x1="266.6" y1="378.0" x2="271.6" y2="378.0" stroke="#111" stroke-width="1.4"/>
<line x1="266.6" y1="458.65" x2="271.6" y2="458.65" stroke="#111" stroke-width="1.4"/>
<text x="7.3" y="279.3" font-size="9.1" fill="#4EA85E" text-anchor="start" textLength="73.3" lengthAdjust="spacingAndGlyphs" stroke="#4EA85E" stroke-width="0.22">Chromatin modifying</text>
<text x="59.1" y="288.95" font-size="9.1" fill="#1A1A1A" text-anchor="start" textLength="21.5" lengthAdjust="spacingAndGlyphs" stroke="#1A1A1A" stroke-width="0.22">STAT3</text>
<text x="54.3" y="296.85" font-size="9.1" fill="#1A1A1A" text-anchor="start" textLength="26.3" lengthAdjust="spacingAndGlyphs" stroke="#1A1A1A" stroke-width="0.22">STAT5B</text>
<text x="47.6" y="304.8" font-size="9.1" fill="#4EA85E" text-anchor="start" textLength="33.0" lengthAdjust="spacingAndGlyphs" stroke="#4EA85E" stroke-width="0.22">DNMT3A</text>
<text x="66.4" y="312.79" font-size="9.1" fill="#1A1A1A" text-anchor="start" textLength="14.2" lengthAdjust="spacingAndGlyphs" stroke="#1A1A1A" stroke-width="0.22">HTT</text>
<text x="43.8" y="320.78" font-size="9.1" fill="#1A1A1A" text-anchor="start" textLength="36.8" lengthAdjust="spacingAndGlyphs" stroke="#1A1A1A" stroke-width="0.22">C17orf104</text>
<text x="52.2" y="328.77" font-size="9.1" fill="#1A1A1A" text-anchor="start" textLength="28.4" lengthAdjust="spacingAndGlyphs" stroke="#1A1A1A" stroke-width="0.22">C2orf71</text>
<text x="59.5" y="336.75" font-size="9.1" fill="#1A1A1A" text-anchor="start" textLength="21.1" lengthAdjust="spacingAndGlyphs" stroke="#1A1A1A" stroke-width="0.22">CHD9</text>
<text x="46.3" y="344.75" font-size="9.1" fill="#1A1A1A" text-anchor="start" textLength="34.3" lengthAdjust="spacingAndGlyphs" stroke="#1A1A1A" stroke-width="0.22">COL11A1</text>
<text x="49.1" y="352.74" font-size="9.1" fill="#1A1A1A" text-anchor="start" textLength="31.5" lengthAdjust="spacingAndGlyphs" stroke="#1A1A1A" stroke-width="0.22">CTNNA3</text>
<text x="54.7" y="360.73" font-size="9.1" fill="#1A1A1A" text-anchor="start" textLength="25.9" lengthAdjust="spacingAndGlyphs" stroke="#1A1A1A" stroke-width="0.22">CYFIP1</text>
<text x="62.2" y="368.72" font-size="9.1" fill="#1A1A1A" text-anchor="start" textLength="18.4" lengthAdjust="spacingAndGlyphs" stroke="#1A1A1A" stroke-width="0.22">DMD</text>
<text x="52.6" y="376.7" font-size="9.1" fill="#1A1A1A" text-anchor="start" textLength="28.0" lengthAdjust="spacingAndGlyphs" stroke="#1A1A1A" stroke-width="0.22">DSCAM</text>
<text x="54.7" y="385.69" font-size="9.1" fill="#4EA85E" text-anchor="start" textLength="25.9" lengthAdjust="spacingAndGlyphs" stroke="#4EA85E" stroke-width="0.22">KMT2D</text>
<text x="50.1" y="393.66" font-size="9.1" fill="#1A1A1A" text-anchor="start" textLength="30.5" lengthAdjust="spacingAndGlyphs" stroke="#1A1A1A" stroke-width="0.22">TNFAIP3</text>
<text x="52.2" y="401.62" font-size="9.1" fill="#4EA85E" text-anchor="start" textLength="28.4" lengthAdjust="spacingAndGlyphs" stroke="#4EA85E" stroke-width="0.22">SETD1B</text>
<text x="54.7" y="409.6" font-size="9.1" fill="#1A1A1A" text-anchor="start" textLength="25.9" lengthAdjust="spacingAndGlyphs" stroke="#1A1A1A" stroke-width="0.22">ABCC9</text>
<text x="63.0" y="417.56" font-size="9.1" fill="#1A1A1A" text-anchor="start" textLength="17.6" lengthAdjust="spacingAndGlyphs" stroke="#1A1A1A" stroke-width="0.22">TET2</text>
<text x="49.1" y="425.54" font-size="9.1" fill="#1A1A1A" text-anchor="start" textLength="31.5" lengthAdjust="spacingAndGlyphs" stroke="#1A1A1A" stroke-width="0.22">MYO18B</text>
<text x="40.1" y="433.5" font-size="9.1" fill="#1A1A1A" text-anchor="start" textLength="40.5" lengthAdjust="spacingAndGlyphs" stroke="#1A1A1A" stroke-width="0.22">ADAMTSL1</text>
<text x="40.1" y="441.48" font-size="9.1" fill="#1A1A1A" text-anchor="start" textLength="40.5" lengthAdjust="spacingAndGlyphs" stroke="#1A1A1A" stroke-width="0.22">ARHGAP25</text>
<text x="58.0" y="449.44" font-size="9.1" fill="#1A1A1A" text-anchor="start" textLength="22.6" lengthAdjust="spacingAndGlyphs" stroke="#1A1A1A" stroke-width="0.22">ASXL3</text>
<text x="43.8" y="457.42" font-size="9.1" fill="#1A1A1A" text-anchor="start" textLength="36.8" lengthAdjust="spacingAndGlyphs" stroke="#1A1A1A" stroke-width="0.22">CACNA1E</text>
<text x="434.3" y="273.9" font-size="7.2" fill="#111" text-anchor="start" font-weight="bold" textLength="23.6" lengthAdjust="spacingAndGlyphs">Cohort</text>
<rect x="434.3" y="277.6" width="5.7" height="5.9" fill="#66C2A5"/>
<rect x="434.3" y="283.5" width="5.7" height="6.1" fill="#8DA0CB"/>
<text x="441.9" y="282.8" font-size="7.0" fill="#1c1c1c" text-anchor="start" textLength="11" lengthAdjust="spacingAndGlyphs" stroke="#1c1c1c" stroke-width="0.22">GD</text>
<text x="442.0" y="289.0" font-size="7.0" fill="#999" text-anchor="start" textLength="4.2" lengthAdjust="spacingAndGlyphs" stroke="#999" stroke-width="0.22">T</text>
<text x="434.5" y="299.9" font-size="7.2" fill="#111" text-anchor="start" font-weight="bold" textLength="37.5" lengthAdjust="spacingAndGlyphs">Alterations</text>
<rect x="434.3" y="305.10" width="6.4" height="7.15" fill="#2166AC"/>
<text x="442.0" y="310.95" font-size="7.4" fill="#1c1c1c" text-anchor="start" textLength="64.3" lengthAdjust="spacingAndGlyphs" stroke="#1c1c1c" stroke-width="0.22">Frameshift deletion</text>
<rect x="434.3" y="312.20" width="6.4" height="7.15" fill="#4B2A8E"/>
<text x="442.0" y="318.05" font-size="7.4" fill="#1c1c1c" text-anchor="start" textLength="65.5" lengthAdjust="spacingAndGlyphs" stroke="#1c1c1c" stroke-width="0.22">Frameshift insertion</text>
<rect x="434.3" y="319.30" width="6.4" height="7.15" fill="#F7EE8C"/>
<text x="442.0" y="325.15" font-size="7.4" fill="#1c1c1c" text-anchor="start" textLength="55.0" lengthAdjust="spacingAndGlyphs" stroke="#1c1c1c" stroke-width="0.22">In-frame deletion</text>
<rect x="434.3" y="326.40" width="6.4" height="7.15" fill="#2C9A45"/>
<text x="442.0" y="332.25" font-size="7.4" fill="#1c1c1c" text-anchor="start" textLength="58.6" lengthAdjust="spacingAndGlyphs" stroke="#1c1c1c" stroke-width="0.22">Missense mutation</text>
<rect x="434.3" y="333.50" width="6.4" height="7.15" fill="#DA2128"/>
<text x="442.0" y="339.35" font-size="7.4" fill="#1c1c1c" text-anchor="start" textLength="63.0" lengthAdjust="spacingAndGlyphs" stroke="#1c1c1c" stroke-width="0.22">Nonsense mutation</text>
<rect x="434.3" y="340.60" width="6.4" height="7.15" fill="#000000"/>
<text x="442.0" y="346.45" font-size="7.4" fill="#1c1c1c" text-anchor="start" textLength="28.5" lengthAdjust="spacingAndGlyphs" stroke="#1c1c1c" stroke-width="0.22">Multi hit</text>
<rect x="434.3" y="347.70" width="6.4" height="7.15" fill="#F47D20"/>
<text x="442.0" y="353.55" font-size="7.4" fill="#1c1c1c" text-anchor="start" textLength="35.0" lengthAdjust="spacingAndGlyphs" stroke="#1c1c1c" stroke-width="0.22">Splice site</text>
<rect x="434.3" y="354.80" width="6.4" height="7.15" fill="#7A3F9E"/>
<text x="442.0" y="360.65" font-size="7.4" fill="#1c1c1c" text-anchor="start" textLength="48.5" lengthAdjust="spacingAndGlyphs" stroke="#1c1c1c" stroke-width="0.22">Other mutation</text>
<rect x="434.3" y="361.90" width="6.4" height="7.15" fill="#9C9C9C"/>
<text x="442.0" y="367.75" font-size="7.4" fill="#1c1c1c" text-anchor="start" textLength="70.4" lengthAdjust="spacingAndGlyphs" stroke="#1c1c1c" stroke-width="0.22">Mutations in pathway</text>
<text x="436.8" y="415.7" font-size="7.2" fill="#111" text-anchor="start" font-weight="bold" textLength="32.3" lengthAdjust="spacingAndGlyphs">Signature</text>
<defs><linearGradient id="sg" x1="0" y1="0" x2="0" y2="1"><stop offset="0" stop-color="#E8321E"/><stop offset="0.12" stop-color="#EC4A32"/><stop offset="0.38" stop-color="#F49C86"/><stop offset="0.68" stop-color="#FFFFFF"/><stop offset="0.8" stop-color="#C4BEE4"/><stop offset="0.92" stop-color="#3D3AA2"/><stop offset="1" stop-color="#3D3AA2"/></linearGradient></defs>
<rect x="434.4" y="418.6" width="8.3" height="31.8" fill="url(#sg)"/>
<text x="444.6" y="424.9" font-size="7.4" fill="#1c1c1c" text-anchor="start" textLength="19.8" lengthAdjust="spacingAndGlyphs" stroke="#1c1c1c" stroke-width="0.22">3e&#8722;04</text>
<line x1="434.4" y1="422.2" x2="435.6" y2="422.2" stroke="#fff" stroke-width="0.6"/>
<line x1="441.5" y1="422.2" x2="442.7" y2="422.2" stroke="#fff" stroke-width="0.6"/>
<text x="444.6" y="433.8" font-size="7.4" fill="#1c1c1c" text-anchor="start" textLength="19.8" lengthAdjust="spacingAndGlyphs" stroke="#1c1c1c" stroke-width="0.22">2e&#8722;04</text>
<line x1="434.4" y1="431.1" x2="435.6" y2="431.1" stroke="#fff" stroke-width="0.6"/>
<line x1="441.5" y1="431.1" x2="442.7" y2="431.1" stroke="#fff" stroke-width="0.6"/>
<text x="444.6" y="442.1" font-size="7.4" fill="#1c1c1c" text-anchor="start" textLength="19.8" lengthAdjust="spacingAndGlyphs" stroke="#1c1c1c" stroke-width="0.22">1e&#8722;04</text>
<line x1="434.4" y1="439.4" x2="435.6" y2="439.4" stroke="#fff" stroke-width="0.6"/>
<line x1="441.5" y1="439.4" x2="442.7" y2="439.4" stroke="#fff" stroke-width="0.6"/>
<text x="446.6" y="451.0" font-size="7.4" fill="#1c1c1c" text-anchor="start" textLength="4.0" lengthAdjust="spacingAndGlyphs" stroke="#1c1c1c" stroke-width="0.22">0</text>
<text x="433.1" y="468.8" font-size="7.6" fill="#1c1c1c" text-anchor="start" textLength="30.5" lengthAdjust="spacingAndGlyphs" stroke="#1c1c1c" stroke-width="0.22">Signature</text>
<rect x="0" y="0" width="520" height="1" fill="#000"/>
<rect x="0" y="0" width="1.1" height="477" fill="#000"/>
<rect x="518.9" y="0" width="1.1" height="477" fill="#000"/>
<rect x="0" y="475.7" width="520" height="1.3" fill="#000"/>
</svg>
</body></html>
